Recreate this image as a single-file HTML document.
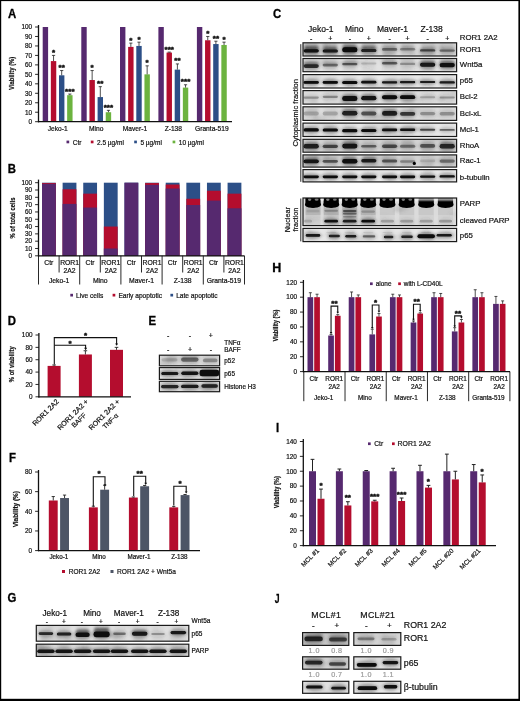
<!DOCTYPE html>
<html lang="en"><head><meta charset="utf-8"><title>Figure</title>
<style>
html,body{margin:0;padding:0;background:#fff;}
body{width:520px;height:701px;overflow:hidden;font-family:"Liberation Sans",Arial,sans-serif;}
svg{display:block;}
svg text{font-kerning:normal;}
</style></head><body>
<svg width="520" height="701" viewBox="0 0 520 701" font-family='"Liberation Sans", Arial, sans-serif' fill="#111">
<defs>
<filter id="bl" x="-20%" y="-50%" width="140%" height="200%"><feGaussianBlur stdDeviation="0.55"/></filter>
<filter id="bl2" x="-20%" y="-50%" width="140%" height="200%"><feGaussianBlur stdDeviation="1.4"/></filter>
<clipPath id="c1"><rect x="303" y="42.8" width="153.6" height="13.2"/></clipPath>
<clipPath id="c2"><rect x="303" y="58.5" width="153.6" height="13.2"/></clipPath>
<clipPath id="c3"><rect x="303" y="74.6" width="153.6" height="13.4"/></clipPath>
<clipPath id="c4"><rect x="303" y="90.6" width="153.6" height="13.5"/></clipPath>
<clipPath id="c5"><rect x="303" y="106.8" width="153.6" height="13.6"/></clipPath>
<clipPath id="c6"><rect x="303" y="123.1" width="153.6" height="13.4"/></clipPath>
<clipPath id="c7"><rect x="303" y="139.3" width="153.6" height="12.9"/></clipPath>
<clipPath id="c8"><rect x="303" y="154.9" width="153.6" height="12.2"/></clipPath>
<clipPath id="c9"><rect x="303" y="169.6" width="153.6" height="12.3"/></clipPath>
<clipPath id="c10"><rect x="303" y="198" width="153.6" height="27.6"/></clipPath>
<clipPath id="c11"><rect x="303" y="228.4" width="153.6" height="13.2"/></clipPath>
<clipPath id="c12"><rect x="159.4" y="355.2" width="60.2" height="10.6"/></clipPath>
<clipPath id="c13"><rect x="159.4" y="367.6" width="60.2" height="11.8"/></clipPath>
<clipPath id="c14"><rect x="159.4" y="381.3" width="60.2" height="10.4"/></clipPath>
<clipPath id="c15"><rect x="36.3" y="625.4" width="152.5" height="15.8"/></clipPath>
<clipPath id="c16"><rect x="36.3" y="644.2" width="152.5" height="12.2"/></clipPath>
<clipPath id="c17"><rect x="302.6" y="632.6" width="46.2" height="12.8"/></clipPath>
<clipPath id="c18"><rect x="353.8" y="632.6" width="47" height="12.8"/></clipPath>
<clipPath id="c19"><rect x="302.6" y="656.8" width="46.2" height="12.4"/></clipPath>
<clipPath id="c20"><rect x="353.8" y="656.8" width="47" height="12.4"/></clipPath>
<clipPath id="c21"><rect x="302.6" y="681.3" width="46.2" height="12"/></clipPath>
<clipPath id="c22"><rect x="353.8" y="681.3" width="47" height="12"/></clipPath>
</defs>
<g id="fig" style="filter:blur(0.3px)">
<text x="0" y="0" font-size="12" font-weight="bold" fill="#000" transform="translate(8.1 17.6) scale(0.95 1)" stroke="#000" stroke-width="0.3">A</text>
<rect x="42.7" y="27" width="5.4" height="94.7" fill="#56296f"/>
<rect x="50.85" y="61.09" width="5.4" height="60.61" fill="#b40d2e"/>
<line x1="53.55" y1="61.09" x2="53.55" y2="55.41" stroke="#222" stroke-width="0.8"/>
<line x1="51.95" y1="55.41" x2="55.15" y2="55.41" stroke="#222" stroke-width="0.8"/>
<text x="53.55" y="54.89" font-size="8" text-anchor="middle" font-weight="bold" stroke="#111" stroke-width="0.45" letter-spacing="0.1">*</text>
<rect x="59" y="75.3" width="5.4" height="46.4" fill="#2c4f87"/>
<line x1="61.7" y1="75.3" x2="61.7" y2="70.56" stroke="#222" stroke-width="0.8"/>
<line x1="60.1" y1="70.56" x2="63.3" y2="70.56" stroke="#222" stroke-width="0.8"/>
<text x="61.7" y="70.04" font-size="8" text-anchor="middle" font-weight="bold" stroke="#111" stroke-width="0.45" letter-spacing="0.1">**</text>
<rect x="67.15" y="95.18" width="5.4" height="26.52" fill="#6cb33f"/>
<line x1="69.85" y1="95.18" x2="69.85" y2="94.05" stroke="#222" stroke-width="0.8"/>
<line x1="68.25" y1="94.05" x2="71.45" y2="94.05" stroke="#222" stroke-width="0.8"/>
<text x="69.85" y="93.53" font-size="8" text-anchor="middle" font-weight="bold" stroke="#111" stroke-width="0.45" letter-spacing="0.1">***</text>
<text x="57.62" y="130.5" font-size="6.65" text-anchor="middle" stroke="#111" stroke-width="0.2">Jeko-1</text>
<rect x="81.3" y="27" width="5.4" height="94.7" fill="#56296f"/>
<rect x="89.45" y="80.03" width="5.4" height="41.67" fill="#b40d2e"/>
<line x1="92.15" y1="80.03" x2="92.15" y2="70.56" stroke="#222" stroke-width="0.8"/>
<line x1="90.55" y1="70.56" x2="93.75" y2="70.56" stroke="#222" stroke-width="0.8"/>
<text x="92.15" y="70.04" font-size="8" text-anchor="middle" font-weight="bold" stroke="#111" stroke-width="0.45" letter-spacing="0.1">*</text>
<rect x="97.6" y="97.08" width="5.4" height="24.62" fill="#2c4f87"/>
<line x1="100.3" y1="97.08" x2="100.3" y2="86.66" stroke="#222" stroke-width="0.8"/>
<line x1="98.7" y1="86.66" x2="101.9" y2="86.66" stroke="#222" stroke-width="0.8"/>
<text x="100.3" y="86.14" font-size="8" text-anchor="middle" font-weight="bold" stroke="#111" stroke-width="0.45" letter-spacing="0.1">**</text>
<rect x="105.75" y="112.23" width="5.4" height="9.47" fill="#6cb33f"/>
<line x1="108.45" y1="112.23" x2="108.45" y2="110.34" stroke="#222" stroke-width="0.8"/>
<line x1="106.85" y1="110.34" x2="110.05" y2="110.34" stroke="#222" stroke-width="0.8"/>
<text x="108.45" y="109.82" font-size="8" text-anchor="middle" font-weight="bold" stroke="#111" stroke-width="0.45" letter-spacing="0.1">***</text>
<text x="96.22" y="130.5" font-size="6.65" text-anchor="middle" stroke="#111" stroke-width="0.2">Mino</text>
<rect x="120" y="27" width="5.4" height="94.7" fill="#56296f"/>
<rect x="128.15" y="46.89" width="5.4" height="74.81" fill="#b40d2e"/>
<line x1="130.85" y1="46.89" x2="130.85" y2="43.1" stroke="#222" stroke-width="0.8"/>
<line x1="129.25" y1="43.1" x2="132.45" y2="43.1" stroke="#222" stroke-width="0.8"/>
<text x="130.85" y="42.58" font-size="8" text-anchor="middle" font-weight="bold" stroke="#111" stroke-width="0.45" letter-spacing="0.1">*</text>
<rect x="136.3" y="45.94" width="5.4" height="75.76" fill="#2c4f87"/>
<line x1="139" y1="45.94" x2="139" y2="42.15" stroke="#222" stroke-width="0.8"/>
<line x1="137.4" y1="42.15" x2="140.6" y2="42.15" stroke="#222" stroke-width="0.8"/>
<text x="139" y="41.63" font-size="8" text-anchor="middle" font-weight="bold" stroke="#111" stroke-width="0.45" letter-spacing="0.1">*</text>
<rect x="144.45" y="74.35" width="5.4" height="47.35" fill="#6cb33f"/>
<line x1="147.15" y1="74.35" x2="147.15" y2="65.83" stroke="#222" stroke-width="0.8"/>
<line x1="145.55" y1="65.83" x2="148.75" y2="65.83" stroke="#222" stroke-width="0.8"/>
<text x="147.15" y="65.31" font-size="8" text-anchor="middle" font-weight="bold" stroke="#111" stroke-width="0.45" letter-spacing="0.1">*</text>
<text x="134.93" y="130.5" font-size="6.65" text-anchor="middle" stroke="#111" stroke-width="0.2">Maver-1</text>
<rect x="158.4" y="27" width="5.4" height="94.7" fill="#56296f"/>
<rect x="166.55" y="52.57" width="5.4" height="69.13" fill="#b40d2e"/>
<line x1="169.25" y1="52.57" x2="169.25" y2="52.1" stroke="#222" stroke-width="0.8"/>
<line x1="167.65" y1="52.1" x2="170.85" y2="52.1" stroke="#222" stroke-width="0.8"/>
<text x="169.25" y="51.58" font-size="8" text-anchor="middle" font-weight="bold" stroke="#111" stroke-width="0.45" letter-spacing="0.1">***</text>
<rect x="174.7" y="69.62" width="5.4" height="52.08" fill="#2c4f87"/>
<line x1="177.4" y1="69.62" x2="177.4" y2="63.93" stroke="#222" stroke-width="0.8"/>
<line x1="175.8" y1="63.93" x2="179" y2="63.93" stroke="#222" stroke-width="0.8"/>
<text x="177.4" y="63.41" font-size="8" text-anchor="middle" font-weight="bold" stroke="#111" stroke-width="0.45" letter-spacing="0.1">**</text>
<rect x="182.85" y="87.61" width="5.4" height="34.09" fill="#6cb33f"/>
<line x1="185.55" y1="87.61" x2="185.55" y2="84.77" stroke="#222" stroke-width="0.8"/>
<line x1="183.95" y1="84.77" x2="187.15" y2="84.77" stroke="#222" stroke-width="0.8"/>
<text x="185.55" y="84.25" font-size="8" text-anchor="middle" font-weight="bold" stroke="#111" stroke-width="0.45" letter-spacing="0.1">***</text>
<text x="173.33" y="130.5" font-size="6.65" text-anchor="middle" stroke="#111" stroke-width="0.2">Z-138</text>
<rect x="196.9" y="27" width="5.4" height="94.7" fill="#56296f"/>
<rect x="205.05" y="40.26" width="5.4" height="81.44" fill="#b40d2e"/>
<line x1="207.75" y1="40.26" x2="207.75" y2="36.47" stroke="#222" stroke-width="0.8"/>
<line x1="206.15" y1="36.47" x2="209.35" y2="36.47" stroke="#222" stroke-width="0.8"/>
<text x="207.75" y="35.95" font-size="8" text-anchor="middle" font-weight="bold" stroke="#111" stroke-width="0.45" letter-spacing="0.1">*</text>
<rect x="213.2" y="44.05" width="5.4" height="77.65" fill="#2c4f87"/>
<line x1="215.9" y1="44.05" x2="215.9" y2="41.2" stroke="#222" stroke-width="0.8"/>
<line x1="214.3" y1="41.2" x2="217.5" y2="41.2" stroke="#222" stroke-width="0.8"/>
<text x="215.9" y="40.68" font-size="8" text-anchor="middle" font-weight="bold" stroke="#111" stroke-width="0.45" letter-spacing="0.1">**</text>
<rect x="221.35" y="44.99" width="5.4" height="76.71" fill="#6cb33f"/>
<line x1="224.05" y1="44.99" x2="224.05" y2="42.15" stroke="#222" stroke-width="0.8"/>
<line x1="222.45" y1="42.15" x2="225.65" y2="42.15" stroke="#222" stroke-width="0.8"/>
<text x="224.05" y="41.63" font-size="8" text-anchor="middle" font-weight="bold" stroke="#111" stroke-width="0.45" letter-spacing="0.1">*</text>
<text x="211.83" y="130.5" font-size="6.65" text-anchor="middle" stroke="#111" stroke-width="0.2">Granta-519</text>
<line x1="38.5" y1="25" x2="38.5" y2="122.3" stroke="#111" stroke-width="1.3"/>
<line x1="38" y1="121.7" x2="232" y2="121.7" stroke="#111" stroke-width="1.2"/>
<line x1="35.1" y1="121.7" x2="38.5" y2="121.7" stroke="#111" stroke-width="0.9"/>
<text x="32.1" y="124" font-size="6.4" text-anchor="end" stroke="#111" stroke-width="0.2">0</text>
<line x1="35.1" y1="112.23" x2="38.5" y2="112.23" stroke="#111" stroke-width="0.9"/>
<text x="32.1" y="114.53" font-size="6.4" text-anchor="end" stroke="#111" stroke-width="0.2">10</text>
<line x1="35.1" y1="102.76" x2="38.5" y2="102.76" stroke="#111" stroke-width="0.9"/>
<text x="32.1" y="105.06" font-size="6.4" text-anchor="end" stroke="#111" stroke-width="0.2">20</text>
<line x1="35.1" y1="93.29" x2="38.5" y2="93.29" stroke="#111" stroke-width="0.9"/>
<text x="32.1" y="95.59" font-size="6.4" text-anchor="end" stroke="#111" stroke-width="0.2">30</text>
<line x1="35.1" y1="83.82" x2="38.5" y2="83.82" stroke="#111" stroke-width="0.9"/>
<text x="32.1" y="86.12" font-size="6.4" text-anchor="end" stroke="#111" stroke-width="0.2">40</text>
<line x1="35.1" y1="74.35" x2="38.5" y2="74.35" stroke="#111" stroke-width="0.9"/>
<text x="32.1" y="76.65" font-size="6.4" text-anchor="end" stroke="#111" stroke-width="0.2">50</text>
<line x1="35.1" y1="64.88" x2="38.5" y2="64.88" stroke="#111" stroke-width="0.9"/>
<text x="32.1" y="67.18" font-size="6.4" text-anchor="end" stroke="#111" stroke-width="0.2">60</text>
<line x1="35.1" y1="55.41" x2="38.5" y2="55.41" stroke="#111" stroke-width="0.9"/>
<text x="32.1" y="57.71" font-size="6.4" text-anchor="end" stroke="#111" stroke-width="0.2">70</text>
<line x1="35.1" y1="45.94" x2="38.5" y2="45.94" stroke="#111" stroke-width="0.9"/>
<text x="32.1" y="48.24" font-size="6.4" text-anchor="end" stroke="#111" stroke-width="0.2">80</text>
<line x1="35.1" y1="36.47" x2="38.5" y2="36.47" stroke="#111" stroke-width="0.9"/>
<text x="32.1" y="38.77" font-size="6.4" text-anchor="end" stroke="#111" stroke-width="0.2">90</text>
<line x1="35.1" y1="27" x2="38.5" y2="27" stroke="#111" stroke-width="0.9"/>
<text x="32.1" y="29.3" font-size="6.4" text-anchor="end" stroke="#111" stroke-width="0.2">100</text>
<text x="0" y="0" font-size="7" text-anchor="middle" font-weight="bold" transform="translate(13.6 73.3) rotate(-90) scale(0.84 1)" stroke="#111" stroke-width="0.2">Viability (%)</text>
<rect x="66.5" y="140.6" width="2.7" height="2.7" fill="#56296f"/>
<text x="72.7" y="144.9" font-size="6.5" stroke="#111" stroke-width="0.2">Ctr</text>
<rect x="90.8" y="140.6" width="2.7" height="2.7" fill="#b40d2e"/>
<text x="97" y="144.9" font-size="6.5" stroke="#111" stroke-width="0.2">2.5 µg/ml</text>
<rect x="134.2" y="140.6" width="2.7" height="2.7" fill="#2c4f87"/>
<text x="140.4" y="144.9" font-size="6.5" stroke="#111" stroke-width="0.2">5 µg/ml</text>
<rect x="172.6" y="140.6" width="2.7" height="2.7" fill="#6cb33f"/>
<text x="178.8" y="144.9" font-size="6.5" stroke="#111" stroke-width="0.2">10 µg/ml</text>
<text x="0" y="0" font-size="12" font-weight="bold" fill="#000" transform="translate(7.8 172.8) scale(0.95 1)" stroke="#000" stroke-width="0.3">B</text>
<rect x="42" y="182.7" width="13.8" height="73.1" fill="#2c4f87"/>
<rect x="42" y="182.99" width="13.8" height="72.81" fill="#b40d2e"/>
<rect x="42" y="183.8" width="13.8" height="72" fill="#56296f"/>
<rect x="62.62" y="182.7" width="13.8" height="73.1" fill="#2c4f87"/>
<rect x="62.62" y="189.28" width="13.8" height="66.52" fill="#b40d2e"/>
<rect x="62.62" y="203.9" width="13.8" height="51.9" fill="#56296f"/>
<rect x="83.24" y="182.7" width="13.8" height="73.1" fill="#2c4f87"/>
<rect x="83.24" y="193.66" width="13.8" height="62.14" fill="#b40d2e"/>
<rect x="83.24" y="207.55" width="13.8" height="48.25" fill="#56296f"/>
<rect x="103.86" y="182.7" width="13.8" height="73.1" fill="#2c4f87"/>
<rect x="103.86" y="226.56" width="13.8" height="29.24" fill="#b40d2e"/>
<rect x="103.86" y="248.49" width="13.8" height="7.31" fill="#56296f"/>
<rect x="124.48" y="182.7" width="13.8" height="73.1" fill="#2c4f87"/>
<rect x="124.48" y="182.7" width="13.8" height="73.1" fill="#56296f"/>
<rect x="145.1" y="182.7" width="13.8" height="73.1" fill="#2c4f87"/>
<rect x="145.1" y="183.07" width="13.8" height="72.73" fill="#b40d2e"/>
<rect x="145.1" y="184.89" width="13.8" height="70.91" fill="#56296f"/>
<rect x="165.72" y="182.7" width="13.8" height="73.1" fill="#2c4f87"/>
<rect x="165.72" y="184.53" width="13.8" height="71.27" fill="#b40d2e"/>
<rect x="165.72" y="188.55" width="13.8" height="67.25" fill="#56296f"/>
<rect x="186.34" y="182.7" width="13.8" height="73.1" fill="#2c4f87"/>
<rect x="186.34" y="198.78" width="13.8" height="57.02" fill="#b40d2e"/>
<rect x="186.34" y="205" width="13.8" height="50.8" fill="#56296f"/>
<rect x="206.96" y="182.7" width="13.8" height="73.1" fill="#2c4f87"/>
<rect x="206.96" y="190.74" width="13.8" height="65.06" fill="#b40d2e"/>
<rect x="206.96" y="200.61" width="13.8" height="55.19" fill="#56296f"/>
<rect x="227.58" y="182.7" width="13.8" height="73.1" fill="#2c4f87"/>
<rect x="227.58" y="193.66" width="13.8" height="62.14" fill="#b40d2e"/>
<rect x="227.58" y="208.28" width="13.8" height="47.52" fill="#56296f"/>
<line x1="38.5" y1="179.6" x2="38.5" y2="256.4" stroke="#111" stroke-width="1.3"/>
<line x1="38" y1="255.8" x2="244.5" y2="255.8" stroke="#111" stroke-width="1.2"/>
<line x1="35.1" y1="255.8" x2="38.5" y2="255.8" stroke="#111" stroke-width="0.9"/>
<text x="32.1" y="258.1" font-size="6.4" text-anchor="end" stroke="#111" stroke-width="0.2">0</text>
<line x1="35.1" y1="248.49" x2="38.5" y2="248.49" stroke="#111" stroke-width="0.9"/>
<text x="32.1" y="250.79" font-size="6.4" text-anchor="end" stroke="#111" stroke-width="0.2">10</text>
<line x1="35.1" y1="241.18" x2="38.5" y2="241.18" stroke="#111" stroke-width="0.9"/>
<text x="32.1" y="243.48" font-size="6.4" text-anchor="end" stroke="#111" stroke-width="0.2">20</text>
<line x1="35.1" y1="233.87" x2="38.5" y2="233.87" stroke="#111" stroke-width="0.9"/>
<text x="32.1" y="236.17" font-size="6.4" text-anchor="end" stroke="#111" stroke-width="0.2">30</text>
<line x1="35.1" y1="226.56" x2="38.5" y2="226.56" stroke="#111" stroke-width="0.9"/>
<text x="32.1" y="228.86" font-size="6.4" text-anchor="end" stroke="#111" stroke-width="0.2">40</text>
<line x1="35.1" y1="219.25" x2="38.5" y2="219.25" stroke="#111" stroke-width="0.9"/>
<text x="32.1" y="221.55" font-size="6.4" text-anchor="end" stroke="#111" stroke-width="0.2">50</text>
<line x1="35.1" y1="211.94" x2="38.5" y2="211.94" stroke="#111" stroke-width="0.9"/>
<text x="32.1" y="214.24" font-size="6.4" text-anchor="end" stroke="#111" stroke-width="0.2">60</text>
<line x1="35.1" y1="204.63" x2="38.5" y2="204.63" stroke="#111" stroke-width="0.9"/>
<text x="32.1" y="206.93" font-size="6.4" text-anchor="end" stroke="#111" stroke-width="0.2">70</text>
<line x1="35.1" y1="197.32" x2="38.5" y2="197.32" stroke="#111" stroke-width="0.9"/>
<text x="32.1" y="199.62" font-size="6.4" text-anchor="end" stroke="#111" stroke-width="0.2">80</text>
<line x1="35.1" y1="190.01" x2="38.5" y2="190.01" stroke="#111" stroke-width="0.9"/>
<text x="32.1" y="192.31" font-size="6.4" text-anchor="end" stroke="#111" stroke-width="0.2">90</text>
<line x1="35.1" y1="182.7" x2="38.5" y2="182.7" stroke="#111" stroke-width="0.9"/>
<text x="32.1" y="185" font-size="6.4" text-anchor="end" stroke="#111" stroke-width="0.2">100</text>
<text x="0" y="0" font-size="7" text-anchor="middle" font-weight="bold" transform="translate(14.6 218) rotate(-90) scale(0.84 1)" stroke="#111" stroke-width="0.2">% of total cells</text>
<line x1="38.5" y1="255.8" x2="38.5" y2="284.5" stroke="#111" stroke-width="0.9"/>
<line x1="79.7" y1="255.8" x2="79.7" y2="284.5" stroke="#111" stroke-width="0.9"/>
<line x1="120.9" y1="255.8" x2="120.9" y2="284.5" stroke="#111" stroke-width="0.9"/>
<line x1="162.1" y1="255.8" x2="162.1" y2="284.5" stroke="#111" stroke-width="0.9"/>
<line x1="203.3" y1="255.8" x2="203.3" y2="284.5" stroke="#111" stroke-width="0.9"/>
<line x1="244.5" y1="255.8" x2="244.5" y2="284.5" stroke="#111" stroke-width="0.9"/>
<line x1="59.1" y1="255.8" x2="59.1" y2="272.5" stroke="#111" stroke-width="0.9"/>
<line x1="100.3" y1="255.8" x2="100.3" y2="272.5" stroke="#111" stroke-width="0.9"/>
<line x1="141.5" y1="255.8" x2="141.5" y2="272.5" stroke="#111" stroke-width="0.9"/>
<line x1="182.7" y1="255.8" x2="182.7" y2="272.5" stroke="#111" stroke-width="0.9"/>
<line x1="223.9" y1="255.8" x2="223.9" y2="272.5" stroke="#111" stroke-width="0.9"/>
<text x="48.8" y="265.3" font-size="6.8" text-anchor="middle" stroke="#111" stroke-width="0.2">Ctr</text>
<text x="69.6" y="265.3" font-size="6.8" text-anchor="middle" stroke="#111" stroke-width="0.2">ROR1</text>
<text x="69.6" y="273.4" font-size="6.8" text-anchor="middle" stroke="#111" stroke-width="0.2">2A2</text>
<text x="90" y="265.3" font-size="6.8" text-anchor="middle" stroke="#111" stroke-width="0.2">Ctr</text>
<text x="110.8" y="265.3" font-size="6.8" text-anchor="middle" stroke="#111" stroke-width="0.2">ROR1</text>
<text x="110.8" y="273.4" font-size="6.8" text-anchor="middle" stroke="#111" stroke-width="0.2">2A2</text>
<text x="131.2" y="265.3" font-size="6.8" text-anchor="middle" stroke="#111" stroke-width="0.2">Ctr</text>
<text x="152" y="265.3" font-size="6.8" text-anchor="middle" stroke="#111" stroke-width="0.2">ROR1</text>
<text x="152" y="273.4" font-size="6.8" text-anchor="middle" stroke="#111" stroke-width="0.2">2A2</text>
<text x="172.4" y="265.3" font-size="6.8" text-anchor="middle" stroke="#111" stroke-width="0.2">Ctr</text>
<text x="193.2" y="265.3" font-size="6.8" text-anchor="middle" stroke="#111" stroke-width="0.2">ROR1</text>
<text x="193.2" y="273.4" font-size="6.8" text-anchor="middle" stroke="#111" stroke-width="0.2">2A2</text>
<text x="213.6" y="265.3" font-size="6.8" text-anchor="middle" stroke="#111" stroke-width="0.2">Ctr</text>
<text x="234.4" y="265.3" font-size="6.8" text-anchor="middle" stroke="#111" stroke-width="0.2">ROR1</text>
<text x="234.4" y="273.4" font-size="6.8" text-anchor="middle" stroke="#111" stroke-width="0.2">2A2</text>
<text x="59.1" y="283" font-size="6.8" text-anchor="middle" stroke="#111" stroke-width="0.2">Jeko-1</text>
<text x="100.3" y="283" font-size="6.8" text-anchor="middle" stroke="#111" stroke-width="0.2">Mino</text>
<text x="141.5" y="283" font-size="6.8" text-anchor="middle" stroke="#111" stroke-width="0.2">Maver-1</text>
<text x="182.7" y="283" font-size="6.8" text-anchor="middle" stroke="#111" stroke-width="0.2">Z-138</text>
<text x="223.9" y="283" font-size="6.8" text-anchor="middle" stroke="#111" stroke-width="0.2">Granta-519</text>
<rect x="70.3" y="293.8" width="2.7" height="2.7" fill="#56296f"/>
<text x="76.1" y="298" font-size="6.6" stroke="#111" stroke-width="0.2">Live cells</text>
<rect x="112.6" y="293.8" width="2.7" height="2.7" fill="#b40d2e"/>
<text x="118.4" y="298" font-size="6.6" stroke="#111" stroke-width="0.2">Early apoptotic</text>
<rect x="170.4" y="293.8" width="2.7" height="2.7" fill="#2c4f87"/>
<text x="176.2" y="298" font-size="6.6" stroke="#111" stroke-width="0.2">Late apoptotic</text>
<text x="0" y="0" font-size="12" font-weight="bold" fill="#000" transform="translate(272.9 17.7) scale(0.95 1)" stroke="#000" stroke-width="0.3">C</text>
<text x="320.7" y="31.6" font-size="8.5" text-anchor="middle" stroke="#111" stroke-width="0.2">Jeko-1</text>
<text x="354.2" y="31.6" font-size="8.5" text-anchor="middle" stroke="#111" stroke-width="0.2">Mino</text>
<text x="392.5" y="31.6" font-size="8.5" text-anchor="middle" stroke="#111" stroke-width="0.2">Maver-1</text>
<text x="431.7" y="31.6" font-size="8.5" text-anchor="middle" stroke="#111" stroke-width="0.2">Z-138</text>
<text x="311.2" y="40.6" font-size="7" text-anchor="middle" stroke="#111" stroke-width="0.2">-</text>
<text x="330.3" y="40.6" font-size="7" text-anchor="middle" stroke="#111" stroke-width="0.2">+</text>
<text x="349.8" y="40.6" font-size="7" text-anchor="middle" stroke="#111" stroke-width="0.2">-</text>
<text x="368.8" y="40.6" font-size="7" text-anchor="middle" stroke="#111" stroke-width="0.2">+</text>
<text x="389.6" y="40.6" font-size="7" text-anchor="middle" stroke="#111" stroke-width="0.2">-</text>
<text x="407.6" y="40.6" font-size="7" text-anchor="middle" stroke="#111" stroke-width="0.2">+</text>
<text x="427.6" y="40.6" font-size="7" text-anchor="middle" stroke="#111" stroke-width="0.2">-</text>
<text x="447.2" y="40.6" font-size="7" text-anchor="middle" stroke="#111" stroke-width="0.2">+</text>
<text x="459.8" y="39.5" font-size="7.8" stroke="#111" stroke-width="0.2">ROR1 2A2</text>
<g clip-path="url(#c1)">
<rect x="303" y="42.8" width="153.6" height="13.2" fill="#d8d8d8"/>
<g filter="url(#bl2)">
<ellipse cx="352.74" cy="44.79" rx="6.68" ry="2.73" fill="#fff" opacity="0.1"/>
<ellipse cx="311.91" cy="49.5" rx="4.35" ry="2.18" fill="#fff" opacity="0.05"/>
<ellipse cx="368.21" cy="53.71" rx="7.14" ry="3.9" fill="#fff" opacity="0.06"/>
<ellipse cx="391.64" cy="48.04" rx="8.29" ry="2.58" fill="#fff" opacity="0.13"/>
<ellipse cx="325.16" cy="44.35" rx="4.9" ry="3.16" fill="#555" opacity="0.07"/>
<ellipse cx="401.14" cy="47.72" rx="4.3" ry="2.41" fill="#fff" opacity="0.09"/>
<ellipse cx="407.51" cy="48.44" rx="6.27" ry="2.6" fill="#555" opacity="0.08"/>
<ellipse cx="425.02" cy="52.03" rx="6.63" ry="3.75" fill="#555" opacity="0.07"/>
<ellipse cx="415.04" cy="46.6" rx="6.09" ry="3.51" fill="#fff" opacity="0.13"/>
<ellipse cx="326.34" cy="49.25" rx="7.82" ry="3.15" fill="#555" opacity="0.05"/>
<ellipse cx="437.47" cy="46.94" rx="6.9" ry="2.91" fill="#555" opacity="0.11"/>
<ellipse cx="432.02" cy="55.27" rx="4.3" ry="3.4" fill="#555" opacity="0.09"/>
<ellipse cx="402.4" cy="55.91" rx="5.93" ry="3.34" fill="#fff" opacity="0.12"/>
<ellipse cx="306.47" cy="48.89" rx="4.29" ry="3.54" fill="#fff" opacity="0.06"/>
<ellipse cx="322.87" cy="46.07" rx="4.4" ry="2.9" fill="#555" opacity="0.08"/>
<ellipse cx="387.39" cy="54.46" rx="5.39" ry="2.83" fill="#555" opacity="0.12"/>
<ellipse cx="358.11" cy="54.47" rx="4.88" ry="2.46" fill="#fff" opacity="0.13"/>
<ellipse cx="338.84" cy="49.2" rx="4.02" ry="2.84" fill="#fff" opacity="0.1"/>
<ellipse cx="359.72" cy="50.28" rx="6.58" ry="3.24" fill="#555" opacity="0.13"/>
<rect x="304.4" y="42.8" width="13.6" height="13.2" fill="#333" opacity="0.23"/>
<rect x="323.5" y="42.8" width="13.6" height="13.2" fill="#333" opacity="0.22"/>
<rect x="343" y="42.8" width="13.6" height="13.2" fill="#333" opacity="0.24"/>
<rect x="362" y="42.8" width="13.6" height="13.2" fill="#333" opacity="0.21"/>
<rect x="382.8" y="42.8" width="13.6" height="13.2" fill="#333" opacity="0.15"/>
<rect x="400.8" y="42.8" width="13.6" height="13.2" fill="#333" opacity="0.13"/>
<rect x="420.8" y="42.8" width="13.6" height="13.2" fill="#333" opacity="0.17"/>
<rect x="440.4" y="42.8" width="13.6" height="13.2" fill="#333" opacity="0.14"/>
<ellipse cx="311.2" cy="50.8" rx="8.9" ry="3.8" fill="#333" opacity="0.4"/>
<rect x="304.1" y="46" width="14.2" height="4.2" fill="#222" opacity="0.59"/>
<ellipse cx="330.3" cy="51" rx="8.9" ry="3.7" fill="#333" opacity="0.37"/>
<rect x="323.2" y="46.9" width="14.2" height="3.6" fill="#222" opacity="0.55"/>
<ellipse cx="349.8" cy="49.8" rx="8.9" ry="4.7" fill="#333" opacity="0.42"/>
<rect x="342.7" y="45.8" width="14.2" height="2.5" fill="#222" opacity="0.62"/>
<ellipse cx="368.8" cy="50.4" rx="8.9" ry="3.7" fill="#333" opacity="0.34"/>
<rect x="361.7" y="46.1" width="14.2" height="3.8" fill="#222" opacity="0.51"/>
<ellipse cx="389.6" cy="49.4" rx="8.9" ry="3.5" fill="#333" opacity="0.18"/>
<rect x="382.5" y="46.6" width="14.2" height="2.5" fill="#222" opacity="0.26"/>
<ellipse cx="407.6" cy="49.2" rx="8.9" ry="3.5" fill="#333" opacity="0.13"/>
<rect x="400.5" y="46.4" width="14.2" height="2.5" fill="#222" opacity="0.19"/>
<ellipse cx="427.6" cy="50.4" rx="8.9" ry="3.4" fill="#333" opacity="0.23"/>
<rect x="420.5" y="48" width="14.2" height="2.2" fill="#222" opacity="0.34"/>
<ellipse cx="447.2" cy="50.6" rx="8.9" ry="3.4" fill="#333" opacity="0.16"/>
<rect x="440.1" y="48.2" width="14.2" height="2.2" fill="#222" opacity="0.24"/>
</g>
<g filter="url(#bl)">
<rect x="303.6" y="49.2" width="15.2" height="3.2" rx="1.6" fill="#080808" opacity="0.95"/>
<rect x="322.7" y="49.5" width="15.2" height="3" rx="1.5" fill="#080808" opacity="0.88"/>
<rect x="342.2" y="47.3" width="15.2" height="5" rx="2.4" fill="#080808" opacity="1"/>
<rect x="361.2" y="48.9" width="15.2" height="3" rx="1.5" fill="#080808" opacity="0.82"/>
<rect x="382" y="48.1" width="15.2" height="2.6" rx="1.3" fill="#080808" opacity="0.42"/>
<rect x="400" y="47.9" width="15.2" height="2.6" rx="1.3" fill="#080808" opacity="0.3"/>
<rect x="420" y="49.2" width="15.2" height="2.4" rx="1.2" fill="#080808" opacity="0.55"/>
<rect x="439.6" y="49.4" width="15.2" height="2.4" rx="1.2" fill="#080808" opacity="0.38"/>
</g></g>
<rect x="303" y="42.8" width="153.6" height="13.2" fill="none" stroke="#1a1a1a" stroke-width="1.2"/>
<text x="459.8" y="51.5" font-size="7.8" stroke="#111" stroke-width="0.2">ROR1</text>
<g clip-path="url(#c2)">
<rect x="303" y="58.5" width="153.6" height="13.2" fill="#e2e2e2"/>
<g filter="url(#bl2)">
<ellipse cx="406.86" cy="59.21" rx="8.37" ry="3.6" fill="#555" opacity="0.12"/>
<ellipse cx="363.27" cy="63.77" rx="4.31" ry="2.13" fill="#555" opacity="0.06"/>
<ellipse cx="335.07" cy="60.64" rx="4" ry="2.3" fill="#fff" opacity="0.08"/>
<ellipse cx="318.58" cy="63.3" rx="7.07" ry="2.3" fill="#555" opacity="0.05"/>
<ellipse cx="341.75" cy="63.09" rx="8.24" ry="3.99" fill="#fff" opacity="0.08"/>
<ellipse cx="374.58" cy="64.89" rx="5.71" ry="2.53" fill="#fff" opacity="0.06"/>
<ellipse cx="430.31" cy="60.63" rx="6.64" ry="2.29" fill="#555" opacity="0.05"/>
<ellipse cx="386.43" cy="58.86" rx="8.32" ry="3.39" fill="#555" opacity="0.09"/>
<ellipse cx="343.11" cy="63.34" rx="6.66" ry="3.56" fill="#555" opacity="0.06"/>
<ellipse cx="353.64" cy="61.44" rx="8.26" ry="3.61" fill="#555" opacity="0.11"/>
<ellipse cx="428.7" cy="68.27" rx="5.78" ry="2.06" fill="#555" opacity="0.07"/>
<ellipse cx="307.29" cy="62.19" rx="8.78" ry="2.89" fill="#555" opacity="0.07"/>
<ellipse cx="446.93" cy="71.54" rx="5.1" ry="2.45" fill="#fff" opacity="0.13"/>
<ellipse cx="333.21" cy="61.2" rx="8.2" ry="2.96" fill="#555" opacity="0.1"/>
<ellipse cx="403.3" cy="69.06" rx="8.55" ry="3.56" fill="#555" opacity="0.06"/>
<ellipse cx="418.22" cy="64.81" rx="5.66" ry="3.6" fill="#555" opacity="0.06"/>
<ellipse cx="452.25" cy="63.73" rx="7.62" ry="2.34" fill="#555" opacity="0.08"/>
<ellipse cx="322.51" cy="60.5" rx="4.73" ry="3.65" fill="#555" opacity="0.12"/>
<ellipse cx="453.57" cy="67.18" rx="4.65" ry="2.03" fill="#555" opacity="0.08"/>
<rect x="304.4" y="58.5" width="13.6" height="13.2" fill="#333" opacity="0.11"/>
<rect x="323.5" y="58.5" width="13.6" height="13.2" fill="#333" opacity="0.09"/>
<rect x="343" y="58.5" width="13.6" height="13.2" fill="#333" opacity="0.09"/>
<rect x="362" y="58.5" width="13.6" height="13.2" fill="#333" opacity="0.06"/>
<rect x="382.8" y="58.5" width="13.6" height="13.2" fill="#333" opacity="0.09"/>
<rect x="400.8" y="58.5" width="13.6" height="13.2" fill="#333" opacity="0.07"/>
<rect x="420.8" y="58.5" width="13.6" height="13.2" fill="#333" opacity="0.13"/>
<rect x="440.4" y="58.5" width="13.6" height="13.2" fill="#333" opacity="0.14"/>
<ellipse cx="311.2" cy="66.1" rx="8.9" ry="4" fill="#333" opacity="0.3"/>
<rect x="304.1" y="62.1" width="14.2" height="3.2" fill="#222" opacity="0.45"/>
<ellipse cx="330.3" cy="65.1" rx="8.9" ry="3.5" fill="#333" opacity="0.18"/>
<rect x="323.2" y="62.8" width="14.2" height="2" fill="#222" opacity="0.26"/>
<ellipse cx="349.8" cy="64.1" rx="8.9" ry="3.4" fill="#333" opacity="0.21"/>
<rect x="342.7" y="62.1" width="14.2" height="1.8" fill="#222" opacity="0.31"/>
<ellipse cx="368.8" cy="63.5" rx="8.9" ry="3.3" fill="#333" opacity="0.06"/>
<ellipse cx="389.6" cy="63.3" rx="8.9" ry="3.5" fill="#333" opacity="0.21"/>
<rect x="382.5" y="61.2" width="14.2" height="1.8" fill="#222" opacity="0.31"/>
<ellipse cx="407.6" cy="63.9" rx="8.9" ry="3.4" fill="#333" opacity="0.12"/>
<ellipse cx="427.6" cy="64.7" rx="8.9" ry="4.2" fill="#333" opacity="0.38"/>
<rect x="420.5" y="61.2" width="14.2" height="2.5" fill="#222" opacity="0.56"/>
<ellipse cx="447.2" cy="65.1" rx="8.9" ry="4.4" fill="#333" opacity="0.41"/>
<rect x="440.1" y="61.4" width="14.2" height="2.5" fill="#222" opacity="0.6"/>
</g>
<g filter="url(#bl)">
<rect x="303.6" y="64.3" width="15.2" height="3.6" rx="1.8" fill="#080808" opacity="0.72"/>
<rect x="322.7" y="63.8" width="15.2" height="2.6" rx="1.3" fill="#080808" opacity="0.42"/>
<rect x="342.2" y="62.9" width="15.2" height="2.4" rx="1.2" fill="#080808" opacity="0.5"/>
<rect x="361.2" y="62.4" width="15.2" height="2.2" rx="1.1" fill="#080808" opacity="0.15"/>
<rect x="382" y="62" width="15.2" height="2.6" rx="1.3" fill="#080808" opacity="0.5"/>
<rect x="400" y="62.7" width="15.2" height="2.4" rx="1.2" fill="#080808" opacity="0.28"/>
<rect x="420" y="62.7" width="15.2" height="4" rx="2" fill="#080808" opacity="0.9"/>
<rect x="439.6" y="62.9" width="15.2" height="4.4" rx="2.2" fill="#080808" opacity="0.97"/>
</g></g>
<rect x="303" y="58.5" width="153.6" height="13.2" fill="none" stroke="#1a1a1a" stroke-width="1.2"/>
<text x="459.8" y="67.2" font-size="7.8" stroke="#111" stroke-width="0.2">Wnt5a</text>
<g clip-path="url(#c3)">
<rect x="303" y="74.6" width="153.6" height="13.4" fill="#e8e8e8"/>
<g filter="url(#bl2)">
<ellipse cx="452.13" cy="83.31" rx="6.17" ry="3.74" fill="#555" opacity="0.09"/>
<ellipse cx="429.9" cy="77.43" rx="5.2" ry="3.17" fill="#fff" opacity="0.07"/>
<ellipse cx="342.84" cy="80.21" rx="5.77" ry="2.92" fill="#555" opacity="0.06"/>
<ellipse cx="392.6" cy="86.72" rx="6.51" ry="3.06" fill="#555" opacity="0.08"/>
<ellipse cx="383.41" cy="74.85" rx="4.02" ry="3.6" fill="#fff" opacity="0.09"/>
<ellipse cx="329.47" cy="80.94" rx="5.63" ry="3.04" fill="#555" opacity="0.11"/>
<ellipse cx="388.32" cy="85.11" rx="5.24" ry="2.55" fill="#555" opacity="0.06"/>
<ellipse cx="421.62" cy="81.4" rx="8.56" ry="2.89" fill="#555" opacity="0.09"/>
<ellipse cx="397.08" cy="81.37" rx="6.26" ry="3.07" fill="#555" opacity="0.09"/>
<ellipse cx="376.43" cy="87.22" rx="8.71" ry="2.52" fill="#555" opacity="0.11"/>
<ellipse cx="388.94" cy="87.24" rx="4.61" ry="2.88" fill="#fff" opacity="0.12"/>
<ellipse cx="314.14" cy="77.82" rx="7.92" ry="3.79" fill="#555" opacity="0.06"/>
<ellipse cx="326.72" cy="84.2" rx="8.41" ry="3.94" fill="#fff" opacity="0.1"/>
<ellipse cx="336.73" cy="87.36" rx="8.95" ry="3.66" fill="#fff" opacity="0.08"/>
<ellipse cx="327.8" cy="80.38" rx="4.98" ry="2.64" fill="#fff" opacity="0.09"/>
<ellipse cx="413.92" cy="74.86" rx="4.09" ry="2.66" fill="#fff" opacity="0.09"/>
<ellipse cx="398.84" cy="81.46" rx="7.94" ry="3.94" fill="#555" opacity="0.06"/>
<ellipse cx="319.09" cy="78.16" rx="5.35" ry="2.26" fill="#555" opacity="0.05"/>
<ellipse cx="367.86" cy="86.81" rx="4.75" ry="3.84" fill="#fff" opacity="0.12"/>
<rect x="304.4" y="74.6" width="13.6" height="13.4" fill="#333" opacity="0.03"/>
<rect x="323.5" y="74.6" width="13.6" height="13.4" fill="#333" opacity="0.03"/>
<rect x="343" y="74.6" width="13.6" height="13.4" fill="#333" opacity="0.03"/>
<rect x="362" y="74.6" width="13.6" height="13.4" fill="#333" opacity="0.03"/>
<rect x="382.8" y="74.6" width="13.6" height="13.4" fill="#333" opacity="0.03"/>
<rect x="400.8" y="74.6" width="13.6" height="13.4" fill="#333" opacity="0.03"/>
<rect x="420.8" y="74.6" width="13.6" height="13.4" fill="#333" opacity="0.03"/>
<rect x="440.4" y="74.6" width="13.6" height="13.4" fill="#333" opacity="0.03"/>
<ellipse cx="311.2" cy="82.4" rx="8.9" ry="3.6" fill="#333" opacity="0.42"/>
<ellipse cx="330.3" cy="82.4" rx="8.9" ry="3.6" fill="#333" opacity="0.42"/>
<ellipse cx="349.8" cy="82.5" rx="8.9" ry="3.7" fill="#333" opacity="0.42"/>
<ellipse cx="368.8" cy="82.2" rx="8.9" ry="3.6" fill="#333" opacity="0.41"/>
<ellipse cx="389.6" cy="82.4" rx="8.9" ry="3.3" fill="#333" opacity="0.39"/>
<ellipse cx="407.6" cy="82.2" rx="8.9" ry="3.3" fill="#333" opacity="0.39"/>
<ellipse cx="427.6" cy="82" rx="8.9" ry="3.3" fill="#333" opacity="0.38"/>
<ellipse cx="447.2" cy="82.4" rx="8.9" ry="3.4" fill="#333" opacity="0.38"/>
</g>
<g filter="url(#bl)">
<rect x="303.6" y="81" width="15.2" height="2.8" rx="1.4" fill="#080808" opacity="1"/>
<rect x="322.7" y="81" width="15.2" height="2.8" rx="1.4" fill="#080808" opacity="1"/>
<rect x="342.2" y="81" width="15.2" height="3" rx="1.5" fill="#080808" opacity="1"/>
<rect x="361.2" y="80.8" width="15.2" height="2.8" rx="1.4" fill="#080808" opacity="0.97"/>
<rect x="382" y="81.3" width="15.2" height="2.2" rx="1.1" fill="#080808" opacity="0.92"/>
<rect x="400" y="81.1" width="15.2" height="2.2" rx="1.1" fill="#080808" opacity="0.92"/>
<rect x="420" y="80.9" width="15.2" height="2.2" rx="1.1" fill="#080808" opacity="0.9"/>
<rect x="439.6" y="81.2" width="15.2" height="2.4" rx="1.2" fill="#080808" opacity="0.9"/>
</g></g>
<rect x="303" y="74.6" width="153.6" height="13.4" fill="none" stroke="#1a1a1a" stroke-width="1.2"/>
<text x="459.8" y="83.4" font-size="7.8" stroke="#111" stroke-width="0.2">p65</text>
<g clip-path="url(#c4)">
<rect x="303" y="90.6" width="153.6" height="13.5" fill="#dedede"/>
<g filter="url(#bl2)">
<ellipse cx="390.64" cy="100.06" rx="7.44" ry="2.85" fill="#fff" opacity="0.06"/>
<ellipse cx="314.12" cy="103.27" rx="4.42" ry="3.71" fill="#555" opacity="0.1"/>
<ellipse cx="313.23" cy="102.25" rx="6.77" ry="3.85" fill="#fff" opacity="0.09"/>
<ellipse cx="344.14" cy="92.34" rx="4.55" ry="2.32" fill="#fff" opacity="0.09"/>
<ellipse cx="310.74" cy="93.32" rx="7.8" ry="2.58" fill="#fff" opacity="0.07"/>
<ellipse cx="379.81" cy="93" rx="5.25" ry="2.03" fill="#fff" opacity="0.08"/>
<ellipse cx="415.6" cy="98.04" rx="8.67" ry="2.21" fill="#fff" opacity="0.07"/>
<ellipse cx="428.79" cy="96.43" rx="5.97" ry="3.01" fill="#555" opacity="0.09"/>
<ellipse cx="408.64" cy="103.86" rx="7.53" ry="3.27" fill="#555" opacity="0.08"/>
<ellipse cx="365.16" cy="95.29" rx="4.35" ry="3.48" fill="#fff" opacity="0.05"/>
<ellipse cx="342.26" cy="92.8" rx="8.35" ry="3.34" fill="#555" opacity="0.06"/>
<ellipse cx="346.3" cy="93.87" rx="4.79" ry="2.89" fill="#fff" opacity="0.07"/>
<ellipse cx="343.43" cy="103.58" rx="5.22" ry="3.93" fill="#555" opacity="0.13"/>
<ellipse cx="350.55" cy="95.41" rx="6.37" ry="3.01" fill="#fff" opacity="0.05"/>
<ellipse cx="333.87" cy="97.41" rx="4.45" ry="2.8" fill="#fff" opacity="0.05"/>
<ellipse cx="309.4" cy="90.9" rx="6.93" ry="3.06" fill="#fff" opacity="0.07"/>
<ellipse cx="418.28" cy="99.48" rx="5.95" ry="2.65" fill="#555" opacity="0.11"/>
<ellipse cx="454.25" cy="92.62" rx="4.22" ry="3.67" fill="#555" opacity="0.11"/>
<ellipse cx="440" cy="99.07" rx="4.7" ry="3.05" fill="#555" opacity="0.11"/>
<rect x="304.4" y="90.6" width="13.6" height="13.5" fill="#333" opacity="0.04"/>
<rect x="323.5" y="90.6" width="13.6" height="13.5" fill="#333" opacity="0.04"/>
<rect x="343" y="90.6" width="13.6" height="13.5" fill="#333" opacity="0.07"/>
<rect x="362" y="90.6" width="13.6" height="13.5" fill="#333" opacity="0.07"/>
<rect x="382.8" y="90.6" width="13.6" height="13.5" fill="#333" opacity="0.07"/>
<rect x="400.8" y="90.6" width="13.6" height="13.5" fill="#333" opacity="0.07"/>
<rect x="420.8" y="90.6" width="13.6" height="13.5" fill="#333" opacity="0.03"/>
<rect x="440.4" y="90.6" width="13.6" height="13.5" fill="#333" opacity="0.04"/>
<ellipse cx="311.2" cy="97.6" rx="8.9" ry="3.3" fill="#333" opacity="0.12"/>
<ellipse cx="330.3" cy="96.8" rx="8.9" ry="3.3" fill="#333" opacity="0.14"/>
<ellipse cx="349.8" cy="98.6" rx="8.9" ry="4.7" fill="#333" opacity="0.41"/>
<rect x="342.7" y="95.3" width="14.2" height="1.8" fill="#222" opacity="0.6"/>
<ellipse cx="368.8" cy="98.2" rx="8.9" ry="4.3" fill="#333" opacity="0.39"/>
<rect x="361.7" y="95.3" width="14.2" height="1.8" fill="#222" opacity="0.58"/>
<ellipse cx="389.6" cy="97.2" rx="8.9" ry="4.2" fill="#333" opacity="0.42"/>
<ellipse cx="407.6" cy="97.2" rx="8.9" ry="4.1" fill="#333" opacity="0.42"/>
<ellipse cx="427.6" cy="97.2" rx="8.9" ry="3.2" fill="#333" opacity="0.08"/>
<ellipse cx="447.2" cy="97.6" rx="8.9" ry="3.2" fill="#333" opacity="0.11"/>
</g>
<g filter="url(#bl)">
<rect x="303.6" y="96.5" width="15.2" height="2.2" rx="1.1" fill="#080808" opacity="0.28"/>
<rect x="322.7" y="95.7" width="15.2" height="2.2" rx="1.1" fill="#080808" opacity="0.33"/>
<rect x="342.2" y="96.1" width="15.2" height="5" rx="2.4" fill="#080808" opacity="0.97"/>
<rect x="361.2" y="96.1" width="15.2" height="4.2" rx="2.1" fill="#080808" opacity="0.93"/>
<rect x="382" y="95.2" width="15.2" height="4" rx="2" fill="#080808" opacity="1"/>
<rect x="400" y="95.3" width="15.2" height="3.8" rx="1.9" fill="#080808" opacity="1"/>
<rect x="420" y="96.2" width="15.2" height="2" rx="1" fill="#080808" opacity="0.2"/>
<rect x="439.6" y="96.6" width="15.2" height="2" rx="1" fill="#080808" opacity="0.26"/>
</g></g>
<rect x="303" y="90.6" width="153.6" height="13.5" fill="none" stroke="#1a1a1a" stroke-width="1.2"/>
<text x="459.8" y="99.45" font-size="7.8" stroke="#111" stroke-width="0.2">Bcl-2</text>
<g clip-path="url(#c5)">
<rect x="303" y="106.8" width="153.6" height="13.6" fill="#dcdcdc"/>
<g filter="url(#bl2)">
<ellipse cx="380.47" cy="118.16" rx="6.92" ry="3.79" fill="#555" opacity="0.11"/>
<ellipse cx="407.89" cy="116.23" rx="4.67" ry="2.72" fill="#fff" opacity="0.07"/>
<ellipse cx="319.12" cy="118.17" rx="7.13" ry="3.36" fill="#555" opacity="0.09"/>
<ellipse cx="378.16" cy="106.85" rx="6.51" ry="3.07" fill="#555" opacity="0.11"/>
<ellipse cx="404.27" cy="107.7" rx="4.37" ry="2.53" fill="#fff" opacity="0.11"/>
<ellipse cx="415.03" cy="109.59" rx="6.47" ry="2.77" fill="#555" opacity="0.11"/>
<ellipse cx="376.58" cy="116.1" rx="7.21" ry="2.15" fill="#555" opacity="0.11"/>
<ellipse cx="325.64" cy="110.25" rx="6.84" ry="2.02" fill="#fff" opacity="0.11"/>
<ellipse cx="312.32" cy="110.46" rx="7.38" ry="2.58" fill="#555" opacity="0.1"/>
<ellipse cx="382.34" cy="113.12" rx="8.47" ry="2.4" fill="#fff" opacity="0.09"/>
<ellipse cx="453.24" cy="119.53" rx="8.1" ry="3.94" fill="#fff" opacity="0.05"/>
<ellipse cx="372.04" cy="110.45" rx="5.05" ry="3.16" fill="#555" opacity="0.07"/>
<ellipse cx="324.77" cy="113.93" rx="8.1" ry="3.02" fill="#fff" opacity="0.13"/>
<ellipse cx="439.22" cy="116.37" rx="6.43" ry="2.05" fill="#555" opacity="0.07"/>
<ellipse cx="303.55" cy="113.49" rx="4.7" ry="2.69" fill="#fff" opacity="0.09"/>
<ellipse cx="351.55" cy="118.23" rx="8.2" ry="2.24" fill="#555" opacity="0.05"/>
<ellipse cx="445.29" cy="116.5" rx="5.86" ry="2.79" fill="#fff" opacity="0.12"/>
<ellipse cx="456.41" cy="114.81" rx="5.38" ry="2.1" fill="#fff" opacity="0.08"/>
<ellipse cx="318.62" cy="118.15" rx="5.25" ry="2.53" fill="#555" opacity="0.07"/>
<rect x="304.4" y="106.8" width="13.6" height="13.6" fill="#333" opacity="0.05"/>
<rect x="323.5" y="106.8" width="13.6" height="13.6" fill="#333" opacity="0.05"/>
<rect x="343" y="106.8" width="13.6" height="13.6" fill="#333" opacity="0.09"/>
<rect x="362" y="106.8" width="13.6" height="13.6" fill="#333" opacity="0.07"/>
<rect x="382.8" y="106.8" width="13.6" height="13.6" fill="#333" opacity="0.09"/>
<rect x="400.8" y="106.8" width="13.6" height="13.6" fill="#333" opacity="0.08"/>
<rect x="420.8" y="106.8" width="13.6" height="13.6" fill="#333" opacity="0.05"/>
<rect x="440.4" y="106.8" width="13.6" height="13.6" fill="#333" opacity="0.05"/>
<ellipse cx="311.2" cy="113.6" rx="8.9" ry="4.2" fill="#333" opacity="0.08"/>
<ellipse cx="330.3" cy="113.6" rx="8.9" ry="4.2" fill="#333" opacity="0.08"/>
<ellipse cx="349.8" cy="113.2" rx="8.9" ry="4.5" fill="#333" opacity="0.36"/>
<rect x="342.7" y="109.9" width="14.2" height="2" fill="#222" opacity="0.53"/>
<ellipse cx="368.8" cy="113.6" rx="8.9" ry="4.2" fill="#333" opacity="0.23"/>
<ellipse cx="389.6" cy="113.4" rx="8.9" ry="4.5" fill="#333" opacity="0.34"/>
<rect x="382.5" y="110.1" width="14.2" height="2" fill="#222" opacity="0.5"/>
<ellipse cx="407.6" cy="113.8" rx="8.9" ry="4.1" fill="#333" opacity="0.29"/>
<ellipse cx="427.6" cy="113.6" rx="8.9" ry="3.9" fill="#333" opacity="0.12"/>
<ellipse cx="447.2" cy="113.8" rx="8.9" ry="3.9" fill="#333" opacity="0.12"/>
</g>
<g filter="url(#bl)">
<rect x="303.6" y="111.6" width="15.2" height="4" rx="2" fill="#080808" opacity="0.2"/>
<rect x="322.7" y="111.6" width="15.2" height="4" rx="2" fill="#080808" opacity="0.2"/>
<rect x="342.2" y="110.9" width="15.2" height="4.6" rx="2.3" fill="#080808" opacity="0.86"/>
<rect x="361.2" y="111.6" width="15.2" height="4" rx="2" fill="#080808" opacity="0.55"/>
<rect x="382" y="111.1" width="15.2" height="4.6" rx="2.3" fill="#080808" opacity="0.8"/>
<rect x="400" y="111.9" width="15.2" height="3.8" rx="1.9" fill="#080808" opacity="0.68"/>
<rect x="420" y="111.9" width="15.2" height="3.4" rx="1.7" fill="#080808" opacity="0.28"/>
<rect x="439.6" y="112.1" width="15.2" height="3.4" rx="1.7" fill="#080808" opacity="0.28"/>
</g></g>
<rect x="303" y="106.8" width="153.6" height="13.6" fill="none" stroke="#1a1a1a" stroke-width="1.2"/>
<text x="459.8" y="115.7" font-size="7.8" stroke="#111" stroke-width="0.2">Bcl-xL</text>
<g clip-path="url(#c6)">
<rect x="303" y="123.1" width="153.6" height="13.4" fill="#e6e6e6"/>
<g filter="url(#bl2)">
<ellipse cx="381.48" cy="125.64" rx="8.42" ry="3.62" fill="#555" opacity="0.08"/>
<ellipse cx="399.91" cy="135.34" rx="7.6" ry="2.1" fill="#555" opacity="0.13"/>
<ellipse cx="415.49" cy="129.14" rx="5.43" ry="2.1" fill="#555" opacity="0.11"/>
<ellipse cx="445.35" cy="124.81" rx="5.49" ry="3.48" fill="#fff" opacity="0.09"/>
<ellipse cx="452.96" cy="126.59" rx="6.79" ry="2.79" fill="#fff" opacity="0.1"/>
<ellipse cx="328.7" cy="125.27" rx="6.49" ry="2.44" fill="#555" opacity="0.07"/>
<ellipse cx="442.2" cy="136.45" rx="4.96" ry="2.18" fill="#fff" opacity="0.09"/>
<ellipse cx="355.52" cy="124.32" rx="6.85" ry="3.77" fill="#fff" opacity="0.07"/>
<ellipse cx="418.15" cy="128.63" rx="5.88" ry="2.68" fill="#555" opacity="0.08"/>
<ellipse cx="312.53" cy="126.82" rx="6.52" ry="3.26" fill="#fff" opacity="0.13"/>
<ellipse cx="435.54" cy="125.99" rx="6" ry="2.89" fill="#fff" opacity="0.07"/>
<ellipse cx="449.53" cy="134.47" rx="4.16" ry="3.42" fill="#fff" opacity="0.12"/>
<ellipse cx="440.58" cy="129.44" rx="5.96" ry="3.85" fill="#fff" opacity="0.1"/>
<ellipse cx="429.81" cy="134.56" rx="4.55" ry="2.31" fill="#fff" opacity="0.13"/>
<ellipse cx="383.24" cy="132.24" rx="7.24" ry="3.53" fill="#555" opacity="0.13"/>
<ellipse cx="373.25" cy="130.49" rx="5.16" ry="3.84" fill="#555" opacity="0.05"/>
<ellipse cx="402.15" cy="127.17" rx="7.18" ry="3.4" fill="#fff" opacity="0.06"/>
<ellipse cx="320.22" cy="124.04" rx="5.94" ry="2.45" fill="#555" opacity="0.09"/>
<ellipse cx="395.32" cy="123.24" rx="8.79" ry="3.29" fill="#fff" opacity="0.07"/>
<rect x="304.4" y="123.1" width="13.6" height="13.4" fill="#333" opacity="0.04"/>
<rect x="323.5" y="123.1" width="13.6" height="13.4" fill="#333" opacity="0.04"/>
<rect x="343" y="123.1" width="13.6" height="13.4" fill="#333" opacity="0.04"/>
<rect x="362" y="123.1" width="13.6" height="13.4" fill="#333" opacity="0.04"/>
<rect x="382.8" y="123.1" width="13.6" height="13.4" fill="#333" opacity="0.04"/>
<rect x="400.8" y="123.1" width="13.6" height="13.4" fill="#333" opacity="0.04"/>
<rect x="420.8" y="123.1" width="13.6" height="13.4" fill="#333" opacity="0.03"/>
<rect x="440.4" y="123.1" width="13.6" height="13.4" fill="#333" opacity="0.03"/>
<ellipse cx="311.2" cy="129.9" rx="8.9" ry="3.8" fill="#333" opacity="0.42"/>
<ellipse cx="330.3" cy="130.1" rx="8.9" ry="3.7" fill="#333" opacity="0.42"/>
<ellipse cx="349.8" cy="130.7" rx="8.9" ry="3.8" fill="#333" opacity="0.42"/>
<ellipse cx="368.8" cy="130.5" rx="8.9" ry="3.8" fill="#333" opacity="0.42"/>
<ellipse cx="389.6" cy="129.9" rx="8.9" ry="3.5" fill="#333" opacity="0.41"/>
<ellipse cx="407.6" cy="129.7" rx="8.9" ry="3.5" fill="#333" opacity="0.41"/>
<ellipse cx="427.6" cy="129.7" rx="8.9" ry="3.2" fill="#333" opacity="0.26"/>
<ellipse cx="447.2" cy="129.9" rx="8.9" ry="3.1" fill="#333" opacity="0.21"/>
</g>
<g filter="url(#bl)">
<rect x="303.6" y="128.3" width="15.2" height="3.2" rx="1.6" fill="#080808" opacity="1"/>
<rect x="322.7" y="128.6" width="15.2" height="3" rx="1.5" fill="#080808" opacity="1"/>
<rect x="342.2" y="129.1" width="15.2" height="3.2" rx="1.6" fill="#080808" opacity="1"/>
<rect x="361.2" y="128.9" width="15.2" height="3.2" rx="1.6" fill="#080808" opacity="1"/>
<rect x="382" y="128.6" width="15.2" height="2.6" rx="1.3" fill="#080808" opacity="0.97"/>
<rect x="400" y="128.4" width="15.2" height="2.6" rx="1.3" fill="#080808" opacity="0.97"/>
<rect x="420" y="128.7" width="15.2" height="2" rx="1" fill="#080808" opacity="0.62"/>
<rect x="439.6" y="129" width="15.2" height="1.8" rx="0.9" fill="#080808" opacity="0.5"/>
</g></g>
<rect x="303" y="123.1" width="153.6" height="13.4" fill="none" stroke="#1a1a1a" stroke-width="1.2"/>
<text x="459.8" y="131.9" font-size="7.8" stroke="#111" stroke-width="0.2">Mcl-1</text>
<g clip-path="url(#c7)">
<rect x="303" y="139.3" width="153.6" height="12.9" fill="#d0d0d0"/>
<g filter="url(#bl2)">
<ellipse cx="438.75" cy="145.43" rx="8.8" ry="3.41" fill="#fff" opacity="0.07"/>
<ellipse cx="350.22" cy="139.58" rx="6.1" ry="2.51" fill="#555" opacity="0.09"/>
<ellipse cx="405.51" cy="151.23" rx="5.69" ry="2.84" fill="#fff" opacity="0.07"/>
<ellipse cx="407.84" cy="141.86" rx="6.52" ry="2.41" fill="#555" opacity="0.11"/>
<ellipse cx="451.97" cy="143.32" rx="5.11" ry="3.52" fill="#fff" opacity="0.12"/>
<ellipse cx="348.3" cy="151.58" rx="5.12" ry="2.83" fill="#fff" opacity="0.09"/>
<ellipse cx="405.19" cy="151.54" rx="5.06" ry="3.95" fill="#fff" opacity="0.06"/>
<ellipse cx="324.8" cy="139.97" rx="8.49" ry="3.77" fill="#fff" opacity="0.05"/>
<ellipse cx="415.55" cy="152.17" rx="4.93" ry="3.87" fill="#fff" opacity="0.12"/>
<ellipse cx="417.63" cy="139.71" rx="5.87" ry="2.66" fill="#fff" opacity="0.1"/>
<ellipse cx="329" cy="139.34" rx="8.78" ry="2.25" fill="#fff" opacity="0.07"/>
<ellipse cx="451.11" cy="141.98" rx="8.11" ry="2.86" fill="#555" opacity="0.08"/>
<ellipse cx="310.57" cy="145.41" rx="4.97" ry="2.73" fill="#555" opacity="0.08"/>
<ellipse cx="440.78" cy="139.69" rx="7.83" ry="2.08" fill="#555" opacity="0.08"/>
<ellipse cx="308.35" cy="140.11" rx="7.74" ry="3.8" fill="#fff" opacity="0.12"/>
<ellipse cx="355.08" cy="142.81" rx="5.31" ry="3.43" fill="#555" opacity="0.13"/>
<ellipse cx="351.61" cy="142.86" rx="8.58" ry="3.27" fill="#555" opacity="0.05"/>
<ellipse cx="447.88" cy="139.61" rx="8.78" ry="3.91" fill="#fff" opacity="0.07"/>
<ellipse cx="362.37" cy="142.54" rx="8.64" ry="2.37" fill="#fff" opacity="0.08"/>
<rect x="304.4" y="139.3" width="13.6" height="12.9" fill="#333" opacity="0.13"/>
<rect x="323.5" y="139.3" width="13.6" height="12.9" fill="#333" opacity="0.1"/>
<rect x="343" y="139.3" width="13.6" height="12.9" fill="#333" opacity="0.13"/>
<rect x="362" y="139.3" width="13.6" height="12.9" fill="#333" opacity="0.09"/>
<rect x="382.8" y="139.3" width="13.6" height="12.9" fill="#333" opacity="0.1"/>
<rect x="400.8" y="139.3" width="13.6" height="12.9" fill="#333" opacity="0.09"/>
<rect x="420.8" y="139.3" width="13.6" height="12.9" fill="#333" opacity="0.1"/>
<rect x="440.4" y="139.3" width="13.6" height="12.9" fill="#333" opacity="0.12"/>
<ellipse cx="311.2" cy="146.3" rx="8.9" ry="4.4" fill="#333" opacity="0.36"/>
<rect x="304.1" y="143.3" width="14.2" height="1.8" fill="#222" opacity="0.53"/>
<ellipse cx="330.3" cy="146.3" rx="8.9" ry="3.8" fill="#333" opacity="0.25"/>
<ellipse cx="349.8" cy="146.1" rx="8.9" ry="4.6" fill="#333" opacity="0.39"/>
<rect x="342.7" y="142.9" width="14.2" height="1.8" fill="#222" opacity="0.58"/>
<ellipse cx="368.8" cy="146.3" rx="8.9" ry="3.5" fill="#333" opacity="0.2"/>
<ellipse cx="389.6" cy="146.3" rx="8.9" ry="4" fill="#333" opacity="0.24"/>
<ellipse cx="407.6" cy="146.3" rx="8.9" ry="3.7" fill="#333" opacity="0.18"/>
<ellipse cx="427.6" cy="145.9" rx="8.9" ry="4" fill="#333" opacity="0.22"/>
<ellipse cx="447.2" cy="146.3" rx="8.9" ry="4.5" fill="#333" opacity="0.34"/>
<rect x="440.1" y="143" width="14.2" height="2" fill="#222" opacity="0.51"/>
</g>
<g filter="url(#bl)">
<rect x="303.6" y="144.1" width="15.2" height="4.4" rx="2.2" fill="#080808" opacity="0.86"/>
<rect x="322.7" y="144.7" width="15.2" height="3.2" rx="1.6" fill="#080808" opacity="0.6"/>
<rect x="342.2" y="143.7" width="15.2" height="4.8" rx="2.4" fill="#080808" opacity="0.93"/>
<rect x="361.2" y="145" width="15.2" height="2.6" rx="1.3" fill="#080808" opacity="0.48"/>
<rect x="382" y="144.5" width="15.2" height="3.6" rx="1.8" fill="#080808" opacity="0.58"/>
<rect x="400" y="144.8" width="15.2" height="3" rx="1.5" fill="#080808" opacity="0.42"/>
<rect x="420" y="144.1" width="15.2" height="3.6" rx="1.8" fill="#080808" opacity="0.52"/>
<rect x="439.6" y="144" width="15.2" height="4.6" rx="2.3" fill="#080808" opacity="0.82"/>
</g></g>
<rect x="303" y="139.3" width="153.6" height="12.9" fill="none" stroke="#1a1a1a" stroke-width="1.2"/>
<text x="459.8" y="147.85" font-size="7.8" stroke="#111" stroke-width="0.2">RhoA</text>
<g clip-path="url(#c8)">
<rect x="303" y="154.9" width="153.6" height="12.2" fill="#d2d2d2"/>
<g filter="url(#bl2)">
<ellipse cx="426.27" cy="163.91" rx="7.04" ry="2.66" fill="#555" opacity="0.12"/>
<ellipse cx="352.08" cy="159.31" rx="4.99" ry="3.51" fill="#fff" opacity="0.11"/>
<ellipse cx="340.99" cy="155.69" rx="5.63" ry="3.96" fill="#555" opacity="0.05"/>
<ellipse cx="438.7" cy="166.95" rx="4.48" ry="3" fill="#fff" opacity="0.07"/>
<ellipse cx="412.02" cy="160.35" rx="7.1" ry="3.35" fill="#fff" opacity="0.07"/>
<ellipse cx="417.89" cy="165.23" rx="8.2" ry="2.59" fill="#fff" opacity="0.1"/>
<ellipse cx="390.07" cy="159.45" rx="5.24" ry="2.49" fill="#fff" opacity="0.11"/>
<ellipse cx="326.55" cy="165.69" rx="5.98" ry="3.98" fill="#fff" opacity="0.1"/>
<ellipse cx="380.93" cy="157.72" rx="8.95" ry="2.2" fill="#555" opacity="0.11"/>
<ellipse cx="375.92" cy="164.89" rx="4.2" ry="2.59" fill="#555" opacity="0.12"/>
<ellipse cx="321.31" cy="157.21" rx="8.65" ry="2.74" fill="#555" opacity="0.13"/>
<ellipse cx="436.04" cy="160.38" rx="8.73" ry="2.21" fill="#555" opacity="0.07"/>
<ellipse cx="394.57" cy="162.46" rx="4.71" ry="2.41" fill="#fff" opacity="0.07"/>
<ellipse cx="342.15" cy="162.21" rx="4.06" ry="2.65" fill="#fff" opacity="0.1"/>
<ellipse cx="407.19" cy="157.16" rx="7.98" ry="3.1" fill="#fff" opacity="0.07"/>
<ellipse cx="312.72" cy="156.14" rx="7.2" ry="2.18" fill="#555" opacity="0.08"/>
<ellipse cx="328.14" cy="163.38" rx="5.54" ry="3.91" fill="#fff" opacity="0.08"/>
<ellipse cx="350.98" cy="161.81" rx="8.32" ry="3.99" fill="#fff" opacity="0.08"/>
<ellipse cx="358.88" cy="157.31" rx="4.03" ry="3.8" fill="#fff" opacity="0.11"/>
<rect x="304.4" y="154.9" width="13.6" height="12.2" fill="#333" opacity="0.13"/>
<rect x="323.5" y="154.9" width="13.6" height="12.2" fill="#333" opacity="0.1"/>
<rect x="343" y="154.9" width="13.6" height="12.2" fill="#333" opacity="0.14"/>
<rect x="362" y="154.9" width="13.6" height="12.2" fill="#333" opacity="0.12"/>
<rect x="382.8" y="154.9" width="13.6" height="12.2" fill="#333" opacity="0.1"/>
<rect x="400.8" y="154.9" width="13.6" height="12.2" fill="#333" opacity="0.08"/>
<rect x="420.8" y="154.9" width="13.6" height="12.2" fill="#333" opacity="0.06"/>
<rect x="440.4" y="154.9" width="13.6" height="12.2" fill="#333" opacity="0.09"/>
<ellipse cx="311.2" cy="161.3" rx="8.9" ry="4.1" fill="#333" opacity="0.39"/>
<rect x="304.1" y="158.6" width="14.2" height="1.8" fill="#222" opacity="0.57"/>
<ellipse cx="330.3" cy="161.3" rx="8.9" ry="3.6" fill="#333" opacity="0.22"/>
<ellipse cx="349.8" cy="161.3" rx="8.9" ry="4.4" fill="#333" opacity="0.41"/>
<rect x="342.7" y="158.3" width="14.2" height="1.8" fill="#222" opacity="0.6"/>
<ellipse cx="368.8" cy="160.7" rx="8.9" ry="3.9" fill="#333" opacity="0.34"/>
<rect x="361.7" y="158.2" width="14.2" height="1.8" fill="#222" opacity="0.5"/>
<ellipse cx="389.6" cy="161.1" rx="8.9" ry="3.7" fill="#333" opacity="0.22"/>
<ellipse cx="407.6" cy="161.5" rx="8.9" ry="3.5" fill="#333" opacity="0.13"/>
<ellipse cx="427.6" cy="160.9" rx="8.9" ry="3.5" fill="#333" opacity="0.05"/>
<ellipse cx="447.2" cy="161.1" rx="8.9" ry="3.9" fill="#333" opacity="0.17"/>
</g>
<g filter="url(#bl)">
<rect x="303.6" y="159.4" width="15.2" height="3.8" rx="1.9" fill="#080808" opacity="0.92"/>
<rect x="322.7" y="159.9" width="15.2" height="2.8" rx="1.4" fill="#080808" opacity="0.52"/>
<rect x="342.2" y="159.1" width="15.2" height="4.4" rx="2.2" fill="#080808" opacity="0.97"/>
<rect x="361.2" y="159" width="15.2" height="3.4" rx="1.7" fill="#080808" opacity="0.8"/>
<rect x="382" y="159.6" width="15.2" height="3" rx="1.5" fill="#080808" opacity="0.52"/>
<rect x="400" y="160.2" width="15.2" height="2.6" rx="1.3" fill="#080808" opacity="0.3"/>
<rect x="420" y="159.6" width="15.2" height="2.6" rx="1.3" fill="#080808" opacity="0.12"/>
<rect x="439.6" y="159.4" width="15.2" height="3.4" rx="1.7" fill="#080808" opacity="0.4"/>
<circle cx="414.3" cy="163.4" r="1.6" fill="#000"/>
</g></g>
<rect x="303" y="154.9" width="153.6" height="12.2" fill="none" stroke="#1a1a1a" stroke-width="1.2"/>
<text x="459.8" y="163.1" font-size="7.8" stroke="#111" stroke-width="0.2">Rac-1</text>
<g clip-path="url(#c9)">
<rect x="303" y="169.6" width="153.6" height="12.3" fill="#e8e8e8"/>
<g filter="url(#bl2)">
<ellipse cx="368.09" cy="179.69" rx="6.3" ry="2.33" fill="#555" opacity="0.08"/>
<ellipse cx="305.28" cy="176.38" rx="4.45" ry="3.24" fill="#555" opacity="0.1"/>
<ellipse cx="359.96" cy="175.8" rx="6.61" ry="3.85" fill="#fff" opacity="0.06"/>
<ellipse cx="319.71" cy="175.63" rx="4.99" ry="2.25" fill="#555" opacity="0.11"/>
<ellipse cx="447.86" cy="181.6" rx="8.63" ry="2.78" fill="#fff" opacity="0.09"/>
<ellipse cx="441.89" cy="177.23" rx="7.93" ry="2.44" fill="#fff" opacity="0.12"/>
<ellipse cx="365.13" cy="180.01" rx="5.09" ry="2.8" fill="#fff" opacity="0.12"/>
<ellipse cx="382.55" cy="174.32" rx="7.62" ry="3.79" fill="#fff" opacity="0.06"/>
<ellipse cx="309.31" cy="176.52" rx="8.19" ry="2.24" fill="#fff" opacity="0.11"/>
<ellipse cx="395.09" cy="176.37" rx="6.1" ry="3.17" fill="#fff" opacity="0.1"/>
<ellipse cx="368.39" cy="177.7" rx="4.12" ry="3.24" fill="#fff" opacity="0.09"/>
<ellipse cx="378.19" cy="172.49" rx="6.29" ry="2.36" fill="#555" opacity="0.11"/>
<ellipse cx="375.69" cy="170.92" rx="4.46" ry="2.88" fill="#fff" opacity="0.06"/>
<ellipse cx="381.36" cy="170.1" rx="7.67" ry="3.56" fill="#fff" opacity="0.1"/>
<ellipse cx="381.56" cy="170.27" rx="8.75" ry="2.27" fill="#fff" opacity="0.09"/>
<ellipse cx="434.65" cy="181.85" rx="4.97" ry="3.96" fill="#555" opacity="0.11"/>
<ellipse cx="378.55" cy="181.37" rx="7.94" ry="3.86" fill="#fff" opacity="0.12"/>
<ellipse cx="313.06" cy="173.92" rx="8.48" ry="2.55" fill="#fff" opacity="0.11"/>
<ellipse cx="428.28" cy="171.37" rx="5.04" ry="2.53" fill="#555" opacity="0.09"/>
<rect x="304.4" y="169.6" width="13.6" height="12.3" fill="#333" opacity="0.03"/>
<rect x="323.5" y="169.6" width="13.6" height="12.3" fill="#333" opacity="0.03"/>
<rect x="343" y="169.6" width="13.6" height="12.3" fill="#333" opacity="0.03"/>
<rect x="362" y="169.6" width="13.6" height="12.3" fill="#333" opacity="0.03"/>
<rect x="382.8" y="169.6" width="13.6" height="12.3" fill="#333" opacity="0.03"/>
<rect x="400.8" y="169.6" width="13.6" height="12.3" fill="#333" opacity="0.03"/>
<rect x="420.8" y="169.6" width="13.6" height="12.3" fill="#333" opacity="0.03"/>
<rect x="440.4" y="169.6" width="13.6" height="12.3" fill="#333" opacity="0.03"/>
<ellipse cx="311.2" cy="176.8" rx="8.9" ry="3.6" fill="#333" opacity="0.42"/>
<ellipse cx="330.3" cy="176.8" rx="8.9" ry="3.6" fill="#333" opacity="0.42"/>
<ellipse cx="349.8" cy="176.8" rx="8.9" ry="3.6" fill="#333" opacity="0.42"/>
<ellipse cx="368.8" cy="176.8" rx="8.9" ry="3.6" fill="#333" opacity="0.42"/>
<ellipse cx="389.6" cy="176.8" rx="8.9" ry="3.6" fill="#333" opacity="0.42"/>
<ellipse cx="407.6" cy="176.8" rx="8.9" ry="3.6" fill="#333" opacity="0.42"/>
<ellipse cx="427.6" cy="176.6" rx="8.9" ry="3.4" fill="#333" opacity="0.41"/>
<ellipse cx="447.2" cy="176.4" rx="8.9" ry="3.4" fill="#333" opacity="0.41"/>
</g>
<g filter="url(#bl)">
<rect x="303.6" y="175.4" width="15.2" height="2.8" rx="1.4" fill="#080808" opacity="1"/>
<rect x="322.7" y="175.4" width="15.2" height="2.8" rx="1.4" fill="#080808" opacity="1"/>
<rect x="342.2" y="175.4" width="15.2" height="2.8" rx="1.4" fill="#080808" opacity="1"/>
<rect x="361.2" y="175.4" width="15.2" height="2.8" rx="1.4" fill="#080808" opacity="1"/>
<rect x="382" y="175.4" width="15.2" height="2.8" rx="1.4" fill="#080808" opacity="1"/>
<rect x="400" y="175.4" width="15.2" height="2.8" rx="1.4" fill="#080808" opacity="1"/>
<rect x="420" y="175.4" width="15.2" height="2.4" rx="1.2" fill="#080808" opacity="0.97"/>
<rect x="439.6" y="175.2" width="15.2" height="2.4" rx="1.2" fill="#080808" opacity="0.97"/>
</g></g>
<rect x="303" y="169.6" width="153.6" height="12.3" fill="none" stroke="#1a1a1a" stroke-width="1.2"/>
<text x="459.8" y="179.65" font-size="7.8" stroke="#111" stroke-width="0.2">b-tubulin</text>
<line x1="300.8" y1="44.2" x2="300.8" y2="181.8" stroke="#111" stroke-width="0.9"/>
<text x="0" y="0" font-size="7.5" text-anchor="middle" transform="translate(297.6 112.8) rotate(-90)" stroke="#111" stroke-width="0.2">Cytoplasmic fraction</text>
<g clip-path="url(#c10)">
<rect x="303" y="198" width="153.6" height="27.6" fill="#dbdbdb"/>
<g filter="url(#bl2)">
<ellipse cx="380.72" cy="206.81" rx="4.81" ry="3.87" fill="#fff" opacity="0.05"/>
<ellipse cx="407.4" cy="222.71" rx="4.58" ry="3.06" fill="#555" opacity="0.06"/>
<ellipse cx="400.74" cy="207.93" rx="6.9" ry="3.77" fill="#555" opacity="0.12"/>
<ellipse cx="319.07" cy="225.41" rx="7.99" ry="2.53" fill="#fff" opacity="0.1"/>
<ellipse cx="455.14" cy="213.94" rx="6.21" ry="2.35" fill="#555" opacity="0.08"/>
<ellipse cx="417.22" cy="199.33" rx="7.2" ry="3.97" fill="#fff" opacity="0.12"/>
<ellipse cx="392.99" cy="216.32" rx="4.17" ry="2.3" fill="#fff" opacity="0.08"/>
<ellipse cx="397.63" cy="209.93" rx="4.66" ry="2.45" fill="#555" opacity="0.09"/>
<ellipse cx="403.32" cy="198.62" rx="4.53" ry="2.71" fill="#fff" opacity="0.05"/>
<ellipse cx="337.45" cy="214.11" rx="7.12" ry="2.95" fill="#fff" opacity="0.1"/>
<ellipse cx="323.7" cy="223.85" rx="4.48" ry="3.28" fill="#fff" opacity="0.07"/>
<ellipse cx="436.83" cy="219.59" rx="4.06" ry="3.29" fill="#fff" opacity="0.08"/>
<ellipse cx="389.37" cy="207.67" rx="8.69" ry="3.47" fill="#fff" opacity="0.1"/>
<ellipse cx="341.17" cy="222.94" rx="6.03" ry="2.48" fill="#555" opacity="0.05"/>
<ellipse cx="311.97" cy="219.5" rx="8.7" ry="2.28" fill="#555" opacity="0.05"/>
<ellipse cx="333.65" cy="214.78" rx="8.07" ry="2.35" fill="#555" opacity="0.09"/>
<ellipse cx="350.52" cy="206.29" rx="7.91" ry="3.43" fill="#555" opacity="0.05"/>
<ellipse cx="303.98" cy="221.31" rx="7.71" ry="2.9" fill="#fff" opacity="0.11"/>
<ellipse cx="337.71" cy="200.91" rx="5.68" ry="3.5" fill="#fff" opacity="0.07"/>
<ellipse cx="308" cy="221.2" rx="5.3" ry="3.6" fill="#333" opacity="0.07"/>
<ellipse cx="331.2" cy="221.2" rx="8.1" ry="3.6" fill="#333" opacity="0.41"/>
<ellipse cx="349.7" cy="221.2" rx="8.1" ry="3.6" fill="#333" opacity="0.37"/>
<ellipse cx="368.2" cy="221.2" rx="8.1" ry="3.6" fill="#333" opacity="0.42"/>
<ellipse cx="387.4" cy="221.2" rx="7.8" ry="3.6" fill="#333" opacity="0.08"/>
<ellipse cx="406.7" cy="221.2" rx="7.8" ry="3.6" fill="#333" opacity="0.08"/>
<ellipse cx="426.2" cy="221.2" rx="7.8" ry="3.6" fill="#333" opacity="0.08"/>
<ellipse cx="445.5" cy="221.2" rx="7.8" ry="3.6" fill="#333" opacity="0.09"/>
<ellipse cx="349.7" cy="211" rx="8.05" ry="3.3" fill="#333" opacity="0.25"/>
<ellipse cx="349.7" cy="213.6" rx="8.05" ry="3" fill="#333" opacity="0.18"/>
<ellipse cx="349.7" cy="216.8" rx="8.05" ry="2.9" fill="#333" opacity="0.12"/>
<ellipse cx="331.2" cy="210.8" rx="8.05" ry="3.2" fill="#333" opacity="0.12"/>
<ellipse cx="368.2" cy="211.6" rx="8.05" ry="3.4" fill="#333" opacity="0.09"/>
<ellipse cx="313" cy="211" rx="8.05" ry="3.7" fill="#333" opacity="0.05"/>
</g>
<g filter="url(#bl)">
<rect x="304" y="219.8" width="8" height="2.8" rx="1.4" fill="#080808" opacity="0.16"/>
<rect x="324.4" y="219.8" width="13.6" height="2.8" rx="1.4" fill="#080808" opacity="0.97"/>
<rect x="342.9" y="219.8" width="13.6" height="2.8" rx="1.4" fill="#080808" opacity="0.88"/>
<rect x="361.4" y="219.8" width="13.6" height="2.8" rx="1.4" fill="#080808" opacity="1"/>
<rect x="380.9" y="219.8" width="13" height="2.8" rx="1.4" fill="#080808" opacity="0.2"/>
<rect x="400.2" y="219.8" width="13" height="2.8" rx="1.4" fill="#080808" opacity="0.2"/>
<rect x="419.7" y="219.8" width="13" height="2.8" rx="1.4" fill="#080808" opacity="0.2"/>
<rect x="439" y="219.8" width="13" height="2.8" rx="1.4" fill="#080808" opacity="0.22"/>
<rect x="342.95" y="209.9" width="13.5" height="2.2" rx="1.1" fill="#080808" opacity="0.6"/>
<rect x="342.95" y="212.8" width="13.5" height="1.6" rx="0.8" fill="#080808" opacity="0.42"/>
<rect x="342.95" y="216.1" width="13.5" height="1.4" rx="0.7" fill="#080808" opacity="0.28"/>
<rect x="324.45" y="209.8" width="13.5" height="2" rx="1" fill="#080808" opacity="0.28"/>
<rect x="361.45" y="210.4" width="13.5" height="2.4" rx="1.2" fill="#080808" opacity="0.22"/>
<rect x="306.25" y="209.5" width="13.5" height="3" rx="1.5" fill="#080808" opacity="0.12"/>
<rect x="305.5" y="206" width="15" height="9" fill="#444" opacity="0.22"/>
<rect x="305.5" y="215" width="15" height="10" fill="#444" opacity="0.1"/>
<rect x="323.7" y="206" width="15" height="9" fill="#444" opacity="0.22"/>
<rect x="323.7" y="215" width="15" height="10" fill="#444" opacity="0.1"/>
<rect x="342.2" y="206" width="15" height="9" fill="#444" opacity="0.22"/>
<rect x="342.2" y="215" width="15" height="10" fill="#444" opacity="0.1"/>
<rect x="360.7" y="206" width="15" height="9" fill="#444" opacity="0.22"/>
<rect x="360.7" y="215" width="15" height="10" fill="#444" opacity="0.1"/>
<rect x="379.9" y="206" width="15" height="9" fill="#444" opacity="0.13"/>
<rect x="379.9" y="215" width="15" height="10" fill="#444" opacity="0.06"/>
<rect x="399.2" y="206" width="15" height="9" fill="#444" opacity="0.13"/>
<rect x="399.2" y="215" width="15" height="10" fill="#444" opacity="0.06"/>
<rect x="418.7" y="206" width="15" height="9" fill="#444" opacity="0.13"/>
<rect x="418.7" y="215" width="15" height="10" fill="#444" opacity="0.06"/>
<rect x="438" y="206" width="15" height="9" fill="#444" opacity="0.13"/>
<rect x="438" y="215" width="15" height="10" fill="#444" opacity="0.06"/>
<path d="M305.4 197 H320.6 V202.5 Q323.2 207.8 313 207.9 Q302.8 207.8 305.4 202.5 Z" fill="#050505"/>
<path d="M323.6 197 H338.8 V202.5 Q341.4 207.8 331.2 207.9 Q321 207.8 323.6 202.5 Z" fill="#050505"/>
<path d="M342.1 197 H357.3 V202.5 Q359.9 207.8 349.7 207.9 Q339.5 207.8 342.1 202.5 Z" fill="#050505"/>
<path d="M360.6 197 H375.8 V202.5 Q378.4 207.8 368.2 207.9 Q358 207.8 360.6 202.5 Z" fill="#050505"/>
<path d="M379.8 197 H395 V202.5 Q397.6 207.8 387.4 207.9 Q377.2 207.8 379.8 202.5 Z" fill="#050505"/>
<path d="M399.1 197 H414.3 V202.5 Q416.9 207.8 406.7 207.9 Q396.5 207.8 399.1 202.5 Z" fill="#050505"/>
<path d="M418.6 200.6 H433.8 V202.5 Q436.4 207.8 426.2 207.9 Q416 207.8 418.6 202.5 Z" fill="#050505"/>
<rect x="418.7" y="197.5" width="15" height="4" fill="#555" opacity="0.55"/>
<path d="M437.9 200.6 H453.1 V202.5 Q455.7 207.8 445.5 207.9 Q435.3 207.8 437.9 202.5 Z" fill="#050505"/>
<rect x="438" y="197.5" width="15" height="4" fill="#555" opacity="0.55"/>
<ellipse cx="309.6" cy="199.6" rx="1.6" ry="1.3" fill="#e8e8e8" opacity="0.55"/>
<ellipse cx="316.6" cy="199.5" rx="1.8" ry="1.2" fill="#e8e8e8" opacity="0.5"/>
<ellipse cx="327.8" cy="199.6" rx="1.6" ry="1.3" fill="#e8e8e8" opacity="0.55"/>
<ellipse cx="334.8" cy="199.5" rx="1.8" ry="1.2" fill="#e8e8e8" opacity="0.5"/>
<ellipse cx="346.3" cy="199.6" rx="1.6" ry="1.3" fill="#e8e8e8" opacity="0.55"/>
<ellipse cx="353.3" cy="199.5" rx="1.8" ry="1.2" fill="#e8e8e8" opacity="0.5"/>
<ellipse cx="364.8" cy="199.6" rx="1.6" ry="1.3" fill="#e8e8e8" opacity="0.55"/>
<ellipse cx="371.8" cy="199.5" rx="1.8" ry="1.2" fill="#e8e8e8" opacity="0.5"/>
<ellipse cx="384" cy="199.6" rx="1.6" ry="1.3" fill="#e8e8e8" opacity="0.55"/>
<ellipse cx="391" cy="199.5" rx="1.8" ry="1.2" fill="#e8e8e8" opacity="0.5"/>
<ellipse cx="403.3" cy="199.6" rx="1.6" ry="1.3" fill="#e8e8e8" opacity="0.55"/>
<ellipse cx="410.3" cy="199.5" rx="1.8" ry="1.2" fill="#e8e8e8" opacity="0.5"/>
<ellipse cx="322.1" cy="199.2" rx="1.5" ry="2.4" fill="#ececec"/>
<ellipse cx="340.45" cy="199.2" rx="1.5" ry="2.4" fill="#ececec"/>
<ellipse cx="358.95" cy="199.2" rx="1.5" ry="2.4" fill="#ececec"/>
<ellipse cx="377.8" cy="199.2" rx="1.5" ry="2.4" fill="#ececec"/>
<ellipse cx="397.05" cy="199.2" rx="1.5" ry="2.4" fill="#ececec"/>
<ellipse cx="416.45" cy="199.2" rx="1.5" ry="2.4" fill="#ececec"/>
<ellipse cx="435.85" cy="199.2" rx="1.5" ry="2.4" fill="#ececec"/>
</g></g>
<rect x="303" y="198" width="153.6" height="27.6" fill="none" stroke="#1a1a1a" stroke-width="1.2"/>
<text x="459.8" y="205.5" font-size="7.8" stroke="#111" stroke-width="0.2">PARP</text>
<text x="459.8" y="222.5" font-size="7.8" stroke="#111" stroke-width="0.2">cleaved PARP</text>
<g clip-path="url(#c11)">
<rect x="303" y="228.4" width="153.6" height="13.2" fill="#e6e6e6"/>
<g filter="url(#bl2)">
<ellipse cx="409.77" cy="239.56" rx="6.77" ry="2.87" fill="#fff" opacity="0.11"/>
<ellipse cx="424.11" cy="235.31" rx="8.83" ry="2.43" fill="#555" opacity="0.07"/>
<ellipse cx="438.17" cy="228.6" rx="7.72" ry="3.89" fill="#fff" opacity="0.07"/>
<ellipse cx="417.61" cy="232.71" rx="5.2" ry="3.82" fill="#fff" opacity="0.12"/>
<ellipse cx="399.87" cy="237.55" rx="6.35" ry="3.68" fill="#555" opacity="0.1"/>
<ellipse cx="410.15" cy="239.72" rx="6.85" ry="2.62" fill="#555" opacity="0.08"/>
<ellipse cx="335.56" cy="236.62" rx="4.72" ry="2.05" fill="#555" opacity="0.06"/>
<ellipse cx="319.39" cy="240.66" rx="4.14" ry="2.08" fill="#fff" opacity="0.08"/>
<ellipse cx="409.39" cy="236.77" rx="4.33" ry="3.18" fill="#555" opacity="0.11"/>
<ellipse cx="358.82" cy="239.19" rx="4.33" ry="3.74" fill="#555" opacity="0.12"/>
<ellipse cx="443.45" cy="240.87" rx="4.56" ry="2.07" fill="#fff" opacity="0.06"/>
<ellipse cx="433.21" cy="239.12" rx="7.16" ry="2.57" fill="#555" opacity="0.1"/>
<ellipse cx="318.34" cy="229.69" rx="5.6" ry="2.85" fill="#fff" opacity="0.11"/>
<ellipse cx="306.21" cy="231.79" rx="5.84" ry="2.64" fill="#555" opacity="0.07"/>
<ellipse cx="451.07" cy="235.05" rx="4.15" ry="2.83" fill="#555" opacity="0.12"/>
<ellipse cx="370.04" cy="238.6" rx="6.69" ry="2.43" fill="#555" opacity="0.08"/>
<ellipse cx="435.44" cy="229.6" rx="4.01" ry="2.4" fill="#fff" opacity="0.12"/>
<ellipse cx="420.07" cy="241.31" rx="6.46" ry="3.59" fill="#fff" opacity="0.05"/>
<ellipse cx="331.34" cy="234.93" rx="5.3" ry="3.89" fill="#555" opacity="0.08"/>
<rect x="306.55" y="228.4" width="12.9" height="13.2" fill="#333" opacity="0.03"/>
<rect x="329.6" y="228.4" width="9.4" height="13.2" fill="#333" opacity="0.03"/>
<rect x="346.1" y="228.4" width="9.4" height="13.2" fill="#333" opacity="0.03"/>
<rect x="363.55" y="228.4" width="10.9" height="13.2" fill="#333" opacity="0.02"/>
<rect x="384.65" y="228.4" width="7.9" height="13.2" fill="#333" opacity="0.03"/>
<rect x="402.05" y="228.4" width="9.9" height="13.2" fill="#333" opacity="0.03"/>
<rect x="418.25" y="228.4" width="15.9" height="13.2" fill="#333" opacity="0.03"/>
<rect x="437.5" y="228.4" width="13.4" height="13.2" fill="#333" opacity="0.03"/>
<rect x="327" y="228.4" width="8.4" height="13.2" fill="#333" opacity="0.01"/>
<rect x="345.5" y="228.4" width="8.4" height="13.2" fill="#333" opacity="0.01"/>
<rect x="364" y="228.4" width="8.4" height="13.2" fill="#333" opacity="0.01"/>
<rect x="383.2" y="228.4" width="8.4" height="13.2" fill="#333" opacity="0.01"/>
<rect x="402.5" y="228.4" width="8.4" height="13.2" fill="#333" opacity="0.01"/>
<rect x="422" y="228.4" width="8.4" height="13.2" fill="#333" opacity="0.01"/>
<ellipse cx="313" cy="235.4" rx="8.55" ry="3.6" fill="#333" opacity="0.39"/>
<ellipse cx="334.3" cy="236" rx="6.8" ry="3.5" fill="#333" opacity="0.36"/>
<ellipse cx="350.8" cy="236.2" rx="6.8" ry="3.5" fill="#333" opacity="0.38"/>
<ellipse cx="369" cy="236.4" rx="7.55" ry="3.3" fill="#333" opacity="0.21"/>
<ellipse cx="388.6" cy="237" rx="6.05" ry="3.5" fill="#333" opacity="0.36"/>
<ellipse cx="407" cy="236.8" rx="7.05" ry="3.5" fill="#333" opacity="0.36"/>
<ellipse cx="426.2" cy="236.3" rx="10.05" ry="4.2" fill="#333" opacity="0.42"/>
<ellipse cx="444.2" cy="235.2" rx="8.8" ry="3.5" fill="#333" opacity="0.39"/>
<ellipse cx="331.2" cy="232.3" rx="6.3" ry="2.6" fill="#333" opacity="0.04"/>
<ellipse cx="349.7" cy="232.3" rx="6.3" ry="2.6" fill="#333" opacity="0.04"/>
<ellipse cx="368.2" cy="232.3" rx="6.3" ry="2.6" fill="#333" opacity="0.04"/>
<ellipse cx="387.4" cy="232.3" rx="6.3" ry="2.6" fill="#333" opacity="0.04"/>
<ellipse cx="406.7" cy="232.3" rx="6.3" ry="2.6" fill="#333" opacity="0.04"/>
<ellipse cx="426.2" cy="232.3" rx="6.3" ry="2.6" fill="#333" opacity="0.04"/>
</g>
<g filter="url(#bl)">
<rect x="305.75" y="234" width="14.5" height="2.8" rx="1.4" fill="#080808" opacity="0.92"/>
<rect x="328.8" y="234.7" width="11" height="2.6" rx="1.3" fill="#080808" opacity="0.86"/>
<rect x="345.3" y="234.9" width="11" height="2.6" rx="1.3" fill="#080808" opacity="0.9"/>
<rect x="362.75" y="235.3" width="12.5" height="2.2" rx="1.1" fill="#080808" opacity="0.5"/>
<rect x="383.85" y="235.7" width="9.5" height="2.6" rx="1.3" fill="#080808" opacity="0.86"/>
<rect x="401.25" y="235.5" width="11.5" height="2.6" rx="1.3" fill="#080808" opacity="0.86"/>
<rect x="417.45" y="234.3" width="17.5" height="4" rx="2" fill="#080808" opacity="1"/>
<rect x="436.7" y="233.9" width="15" height="2.6" rx="1.3" fill="#080808" opacity="0.92"/>
<rect x="326.2" y="231.9" width="10" height="0.8" rx="0.4" fill="#080808" opacity="0.1"/>
<rect x="344.7" y="231.9" width="10" height="0.8" rx="0.4" fill="#080808" opacity="0.1"/>
<rect x="363.2" y="231.9" width="10" height="0.8" rx="0.4" fill="#080808" opacity="0.1"/>
<rect x="382.4" y="231.9" width="10" height="0.8" rx="0.4" fill="#080808" opacity="0.1"/>
<rect x="401.7" y="231.9" width="10" height="0.8" rx="0.4" fill="#080808" opacity="0.1"/>
<rect x="421.2" y="231.9" width="10" height="0.8" rx="0.4" fill="#080808" opacity="0.1"/>
</g></g>
<rect x="303" y="228.4" width="153.6" height="13.2" fill="none" stroke="#1a1a1a" stroke-width="1.2"/>
<text x="459.8" y="237.8" font-size="7.8" stroke="#111" stroke-width="0.2">p65</text>
<line x1="300.8" y1="198.5" x2="300.8" y2="241.4" stroke="#111" stroke-width="0.9"/>
<text x="0" y="0" font-size="7.3" text-anchor="middle" transform="translate(289.8 219.6) rotate(-90)" stroke="#111" stroke-width="0.2">Nuclear</text>
<text x="0" y="0" font-size="7.3" text-anchor="middle" transform="translate(298.2 219.6) rotate(-90)" stroke="#111" stroke-width="0.2">fraction</text>
<text x="0" y="0" font-size="12" font-weight="bold" fill="#000" transform="translate(7.7 325) scale(0.95 1)" stroke="#000" stroke-width="0.3">D</text>
<rect x="47.6" y="365.9" width="13" height="30.9" fill="#b40d2e"/>
<line x1="54.1" y1="365.9" x2="54.1" y2="364.97" stroke="#222" stroke-width="0.9"/>
<line x1="52.3" y1="364.97" x2="55.9" y2="364.97" stroke="#222" stroke-width="0.9"/>
<rect x="78.9" y="354.47" width="13" height="42.33" fill="#b40d2e"/>
<line x1="85.4" y1="354.47" x2="85.4" y2="350.76" stroke="#222" stroke-width="0.9"/>
<line x1="83.6" y1="350.76" x2="87.2" y2="350.76" stroke="#222" stroke-width="0.9"/>
<rect x="110" y="349.83" width="13" height="46.97" fill="#b40d2e"/>
<line x1="116.5" y1="349.83" x2="116.5" y2="347.36" stroke="#222" stroke-width="0.9"/>
<line x1="114.7" y1="347.36" x2="118.3" y2="347.36" stroke="#222" stroke-width="0.9"/>
<line x1="38.9" y1="333" x2="38.9" y2="397.4" stroke="#111" stroke-width="1.3"/>
<line x1="38.4" y1="396.8" x2="131" y2="396.8" stroke="#111" stroke-width="1.2"/>
<line x1="35.5" y1="396.8" x2="38.9" y2="396.8" stroke="#111" stroke-width="0.9"/>
<text x="32.5" y="399.1" font-size="6.4" text-anchor="end" stroke="#111" stroke-width="0.2">0</text>
<line x1="35.5" y1="384.44" x2="38.9" y2="384.44" stroke="#111" stroke-width="0.9"/>
<text x="32.5" y="386.74" font-size="6.4" text-anchor="end" stroke="#111" stroke-width="0.2">20</text>
<line x1="35.5" y1="372.08" x2="38.9" y2="372.08" stroke="#111" stroke-width="0.9"/>
<text x="32.5" y="374.38" font-size="6.4" text-anchor="end" stroke="#111" stroke-width="0.2">40</text>
<line x1="35.5" y1="359.72" x2="38.9" y2="359.72" stroke="#111" stroke-width="0.9"/>
<text x="32.5" y="362.02" font-size="6.4" text-anchor="end" stroke="#111" stroke-width="0.2">60</text>
<line x1="35.5" y1="347.36" x2="38.9" y2="347.36" stroke="#111" stroke-width="0.9"/>
<text x="32.5" y="349.66" font-size="6.4" text-anchor="end" stroke="#111" stroke-width="0.2">80</text>
<line x1="35.5" y1="335" x2="38.9" y2="335" stroke="#111" stroke-width="0.9"/>
<text x="32.5" y="337.3" font-size="6.4" text-anchor="end" stroke="#111" stroke-width="0.2">100</text>
<text x="0" y="0" font-size="7" text-anchor="middle" font-weight="bold" transform="translate(14.2 364.2) rotate(-90) scale(0.84 1)" stroke="#111" stroke-width="0.2">% of viability</text>
<path d="M54.3 364.6 V337.6 H116.6 V344.6" fill="none" stroke="#111" stroke-width="1.1"/>
<path d="M115.1 343.45 L118.1 343.45 L116.6 345.8 Z" fill="#111"/>
<path d="M54.3 345.2 H85.6 V349" fill="none" stroke="#111" stroke-width="1.1"/>
<path d="M84.1 347.85 L87.1 347.85 L85.6 350.2 Z" fill="#111"/>
<text x="70" y="346.28" font-size="8" text-anchor="middle" font-weight="bold" stroke="#111" stroke-width="0.45" letter-spacing="0.1">*</text>
<text x="85.7" y="338.28" font-size="8" text-anchor="middle" font-weight="bold" stroke="#111" stroke-width="0.45" letter-spacing="0.1">*</text>
<text x="0" y="0" font-size="7.1" text-anchor="end" transform="translate(59.4 402) rotate(-45)" stroke="#111" stroke-width="0.2">ROR1 2A2</text>
<text x="0" y="0" font-size="7.1" text-anchor="end" transform="translate(88.8 402) rotate(-45)" stroke="#111" stroke-width="0.2">ROR1 2A2 +</text>
<text x="0" y="0" font-size="6.8" text-anchor="end" transform="translate(86.6 415.8) rotate(-45)" stroke="#111" stroke-width="0.2">BAFF</text>
<text x="0" y="0" font-size="7.1" text-anchor="end" transform="translate(120.2 402) rotate(-45)" stroke="#111" stroke-width="0.2">ROR1 2A2 +</text>
<text x="0" y="0" font-size="6.6" text-anchor="end" transform="translate(118.6 416) rotate(-45)" stroke="#111" stroke-width="0.2">TNF-α</text>
<text x="0" y="0" font-size="12" font-weight="bold" fill="#000" transform="translate(148.6 324.9) scale(0.95 1)" stroke="#000" stroke-width="0.3">E</text>
<text x="168.2" y="337.6" font-size="7" text-anchor="middle" stroke="#111" stroke-width="0.2">-</text>
<text x="190" y="337.6" font-size="7" text-anchor="middle" stroke="#111" stroke-width="0.2">-</text>
<text x="210.8" y="337.6" font-size="7" text-anchor="middle" stroke="#111" stroke-width="0.2">+</text>
<text x="168.2" y="352" font-size="7" text-anchor="middle" stroke="#111" stroke-width="0.2">-</text>
<text x="190" y="352" font-size="7" text-anchor="middle" stroke="#111" stroke-width="0.2">+</text>
<text x="210.8" y="352" font-size="7" text-anchor="middle" stroke="#111" stroke-width="0.2">-</text>
<text x="224.3" y="344.8" font-size="6.4" stroke="#111" stroke-width="0.2">TNFα</text>
<text x="224.3" y="352.4" font-size="6.4" stroke="#111" stroke-width="0.2">BAFF</text>
<g clip-path="url(#c12)">
<rect x="159.4" y="355.2" width="60.2" height="10.6" fill="#dadada"/>
<g filter="url(#bl2)">
<ellipse cx="176.48" cy="357.48" rx="4.55" ry="3.27" fill="#fff" opacity="0.11"/>
<ellipse cx="164.27" cy="363.55" rx="7.14" ry="2.71" fill="#555" opacity="0.11"/>
<ellipse cx="183.56" cy="359.38" rx="8.44" ry="2.05" fill="#fff" opacity="0.12"/>
<ellipse cx="171.81" cy="357.99" rx="5.9" ry="3.77" fill="#555" opacity="0.12"/>
<ellipse cx="173.46" cy="360.09" rx="7.76" ry="3.29" fill="#555" opacity="0.09"/>
<ellipse cx="180.38" cy="358.66" rx="7.31" ry="3.48" fill="#555" opacity="0.06"/>
<ellipse cx="169.61" cy="359.85" rx="4.63" ry="2.92" fill="#555" opacity="0.11"/>
<rect x="162.3" y="355.2" width="14.4" height="10.6" fill="#333" opacity="0.04"/>
<rect x="181.85" y="355.2" width="15.9" height="10.6" fill="#333" opacity="0.06"/>
<rect x="203.75" y="355.2" width="12.9" height="10.6" fill="#333" opacity="0.05"/>
<ellipse cx="169.5" cy="359.8" rx="9.3" ry="3.8" fill="#333" opacity="0.06"/>
<ellipse cx="189.8" cy="359.6" rx="10.05" ry="4.3" fill="#333" opacity="0.19"/>
<rect x="181.55" y="356.5" width="16.5" height="2" fill="#222" opacity="0.29"/>
<ellipse cx="210.2" cy="360.4" rx="8.55" ry="4.1" fill="#333" opacity="0.13"/>
</g>
<g filter="url(#bl)">
<rect x="161.5" y="358.2" width="16" height="3.2" rx="1.6" fill="#080808" opacity="0.14"/>
<rect x="181.05" y="357.5" width="17.5" height="4.2" rx="2.1" fill="#080808" opacity="0.46"/>
<rect x="202.95" y="358.5" width="14.5" height="3.8" rx="1.9" fill="#080808" opacity="0.3"/>
</g></g>
<rect x="159.4" y="355.2" width="60.2" height="10.6" fill="none" stroke="#1a1a1a" stroke-width="1.2"/>
<g clip-path="url(#c13)">
<rect x="159.4" y="367.6" width="60.2" height="11.8" fill="#e6e6e6"/>
<g filter="url(#bl2)">
<ellipse cx="212.68" cy="370.41" rx="7.52" ry="3.69" fill="#fff" opacity="0.07"/>
<ellipse cx="168.71" cy="369.44" rx="6.61" ry="2.32" fill="#fff" opacity="0.07"/>
<ellipse cx="179.15" cy="369.83" rx="4.51" ry="3.92" fill="#555" opacity="0.13"/>
<ellipse cx="165.52" cy="372.13" rx="7.67" ry="2.87" fill="#555" opacity="0.13"/>
<ellipse cx="171.21" cy="375.13" rx="5.94" ry="2.07" fill="#fff" opacity="0.06"/>
<ellipse cx="183.42" cy="376.93" rx="7.16" ry="2.93" fill="#555" opacity="0.11"/>
<ellipse cx="167.94" cy="374.72" rx="8.54" ry="2.86" fill="#555" opacity="0.08"/>
<rect x="162.1" y="367.6" width="15.4" height="11.8" fill="#333" opacity="0.04"/>
<rect x="182.1" y="367.6" width="15.4" height="11.8" fill="#333" opacity="0.04"/>
<rect x="200.45" y="367.6" width="17.9" height="11.8" fill="#333" opacity="0.04"/>
<ellipse cx="169.8" cy="373.4" rx="9.8" ry="3.7" fill="#333" opacity="0.39"/>
<ellipse cx="189.8" cy="373.2" rx="9.8" ry="3.9" fill="#333" opacity="0.4"/>
<ellipse cx="209.4" cy="373" rx="11.05" ry="5.5" fill="#333" opacity="0.42"/>
</g>
<g filter="url(#bl)">
<rect x="161.3" y="371.9" width="17" height="3" rx="1.5" fill="#080808" opacity="0.92"/>
<rect x="181.3" y="371.5" width="17" height="3.4" rx="1.7" fill="#080808" opacity="0.95"/>
<rect x="199.65" y="369.7" width="19.5" height="6.6" rx="2.4" fill="#080808" opacity="1"/>
</g></g>
<rect x="159.4" y="367.6" width="60.2" height="11.8" fill="none" stroke="#1a1a1a" stroke-width="1.2"/>
<g clip-path="url(#c14)">
<rect x="159.4" y="381.3" width="60.2" height="10.4" fill="#dcdcdc"/>
<g filter="url(#bl2)">
<ellipse cx="193.95" cy="389.09" rx="7.61" ry="3.76" fill="#fff" opacity="0.08"/>
<ellipse cx="206" cy="388.58" rx="7.21" ry="2.91" fill="#555" opacity="0.12"/>
<ellipse cx="178.24" cy="387.83" rx="7.91" ry="3.43" fill="#fff" opacity="0.06"/>
<ellipse cx="197.3" cy="383.9" rx="7.11" ry="2.82" fill="#fff" opacity="0.08"/>
<ellipse cx="200.05" cy="390.97" rx="7.89" ry="2.78" fill="#555" opacity="0.06"/>
<ellipse cx="188.89" cy="391.44" rx="4.8" ry="3.56" fill="#555" opacity="0.05"/>
<ellipse cx="216.02" cy="386.7" rx="6.71" ry="3.43" fill="#555" opacity="0.06"/>
<rect x="161.85" y="381.3" width="15.9" height="10.4" fill="#333" opacity="0.05"/>
<rect x="181.85" y="381.3" width="15.9" height="10.4" fill="#333" opacity="0.06"/>
<rect x="202.15" y="381.3" width="14.9" height="10.4" fill="#333" opacity="0.05"/>
<ellipse cx="169.8" cy="386.6" rx="10.05" ry="3.8" fill="#333" opacity="0.36"/>
<ellipse cx="189.8" cy="386.4" rx="10.05" ry="3.9" fill="#333" opacity="0.38"/>
<ellipse cx="209.6" cy="386" rx="9.55" ry="3.9" fill="#333" opacity="0.36"/>
</g>
<g filter="url(#bl)">
<rect x="161.05" y="385" width="17.5" height="3.2" rx="1.6" fill="#080808" opacity="0.85"/>
<rect x="181.05" y="384.7" width="17.5" height="3.4" rx="1.7" fill="#080808" opacity="0.9"/>
<rect x="201.35" y="384.3" width="16.5" height="3.4" rx="1.7" fill="#080808" opacity="0.85"/>
</g></g>
<rect x="159.4" y="381.3" width="60.2" height="10.4" fill="none" stroke="#1a1a1a" stroke-width="1.2"/>
<text x="224.3" y="362.6" font-size="6.4" stroke="#111" stroke-width="0.2">p52</text>
<text x="224.3" y="375.6" font-size="6.4" stroke="#111" stroke-width="0.2">p65</text>
<text x="224.3" y="388.6" font-size="6.4" stroke="#111" stroke-width="0.2">Histone H3</text>
<text x="0" y="0" font-size="12" font-weight="bold" fill="#000" transform="translate(9.1 462.4) scale(0.95 1)" stroke="#000" stroke-width="0.3">F</text>
<rect x="48.8" y="500.49" width="8.9" height="50.11" fill="#b40d2e"/>
<line x1="53.25" y1="500.49" x2="53.25" y2="496.56" stroke="#222" stroke-width="0.9"/>
<line x1="51.65" y1="496.56" x2="54.85" y2="496.56" stroke="#222" stroke-width="0.9"/>
<rect x="60.1" y="498.04" width="8.9" height="52.56" fill="#4d5566"/>
<line x1="64.55" y1="498.04" x2="64.55" y2="495.09" stroke="#222" stroke-width="0.9"/>
<line x1="62.95" y1="495.09" x2="66.15" y2="495.09" stroke="#222" stroke-width="0.9"/>
<text x="58.9" y="559.4" font-size="6.3" text-anchor="middle" stroke="#111" stroke-width="0.2">Jeko-1</text>
<rect x="88.9" y="507.37" width="8.9" height="43.23" fill="#b40d2e"/>
<line x1="93.35" y1="507.37" x2="93.35" y2="506.19" stroke="#222" stroke-width="0.9"/>
<line x1="91.75" y1="506.19" x2="94.95" y2="506.19" stroke="#222" stroke-width="0.9"/>
<rect x="100.2" y="489.69" width="8.9" height="60.92" fill="#4d5566"/>
<line x1="104.65" y1="489.69" x2="104.65" y2="485.26" stroke="#222" stroke-width="0.9"/>
<line x1="103.05" y1="485.26" x2="106.25" y2="485.26" stroke="#222" stroke-width="0.9"/>
<text x="99" y="559.4" font-size="6.3" text-anchor="middle" stroke="#111" stroke-width="0.2">Mino</text>
<rect x="128.9" y="497.55" width="8.9" height="53.06" fill="#b40d2e"/>
<line x1="133.35" y1="497.55" x2="133.35" y2="496.96" stroke="#222" stroke-width="0.9"/>
<line x1="131.75" y1="496.96" x2="134.95" y2="496.96" stroke="#222" stroke-width="0.9"/>
<rect x="140.2" y="486.25" width="8.9" height="64.35" fill="#4d5566"/>
<line x1="144.65" y1="486.25" x2="144.65" y2="485.46" stroke="#222" stroke-width="0.9"/>
<line x1="143.05" y1="485.46" x2="146.25" y2="485.46" stroke="#222" stroke-width="0.9"/>
<text x="139" y="559.4" font-size="6.3" text-anchor="middle" stroke="#111" stroke-width="0.2">Maver-1</text>
<rect x="169.3" y="507.37" width="8.9" height="43.23" fill="#b40d2e"/>
<line x1="173.75" y1="507.37" x2="173.75" y2="506.39" stroke="#222" stroke-width="0.9"/>
<line x1="172.15" y1="506.39" x2="175.35" y2="506.39" stroke="#222" stroke-width="0.9"/>
<rect x="180.6" y="495.09" width="8.9" height="55.51" fill="#4d5566"/>
<line x1="185.05" y1="495.09" x2="185.05" y2="494.5" stroke="#222" stroke-width="0.9"/>
<line x1="183.45" y1="494.5" x2="186.65" y2="494.5" stroke="#222" stroke-width="0.9"/>
<text x="179.4" y="559.4" font-size="6.3" text-anchor="middle" stroke="#111" stroke-width="0.2">Z-138</text>
<line x1="38.5" y1="470" x2="38.5" y2="551.2" stroke="#111" stroke-width="1.3"/>
<line x1="38" y1="550.6" x2="200" y2="550.6" stroke="#111" stroke-width="1.2"/>
<line x1="35.1" y1="550.6" x2="38.5" y2="550.6" stroke="#111" stroke-width="0.9"/>
<text x="32.1" y="552.9" font-size="6.4" text-anchor="end" stroke="#111" stroke-width="0.2">0</text>
<line x1="35.1" y1="530.95" x2="38.5" y2="530.95" stroke="#111" stroke-width="0.9"/>
<text x="32.1" y="533.25" font-size="6.4" text-anchor="end" stroke="#111" stroke-width="0.2">20</text>
<line x1="35.1" y1="511.3" x2="38.5" y2="511.3" stroke="#111" stroke-width="0.9"/>
<text x="32.1" y="513.6" font-size="6.4" text-anchor="end" stroke="#111" stroke-width="0.2">40</text>
<line x1="35.1" y1="491.65" x2="38.5" y2="491.65" stroke="#111" stroke-width="0.9"/>
<text x="32.1" y="493.95" font-size="6.4" text-anchor="end" stroke="#111" stroke-width="0.2">60</text>
<line x1="35.1" y1="472" x2="38.5" y2="472" stroke="#111" stroke-width="0.9"/>
<text x="32.1" y="474.3" font-size="6.4" text-anchor="end" stroke="#111" stroke-width="0.2">80</text>
<text x="0" y="0" font-size="7.4" text-anchor="middle" font-weight="bold" transform="translate(18.4 509.2) rotate(-90) scale(0.87 1)" stroke="#111" stroke-width="0.2">Viability (%)</text>
<path d="M93.3 506 V476.8 H105 V484.8" fill="none" stroke="#111" stroke-width="1.1"/>
<path d="M103.6 484.18 L106.4 484.18 L105 486.4 Z" fill="#111"/>
<text x="99.15" y="476.48" font-size="8" text-anchor="middle" font-weight="bold" stroke="#111" stroke-width="0.45" letter-spacing="0.1">*</text>
<path d="M133.7 496 V476.3 H145.7 V483.4" fill="none" stroke="#111" stroke-width="1.1"/>
<path d="M144.3 482.78 L147.1 482.78 L145.7 485 Z" fill="#111"/>
<text x="139.7" y="475.68" font-size="8" text-anchor="middle" font-weight="bold" stroke="#111" stroke-width="0.45" letter-spacing="0.1">**</text>
<path d="M173.8 505.5 V486.3 H186.2 V492" fill="none" stroke="#111" stroke-width="1.1"/>
<path d="M184.8 491.38 L187.6 491.38 L186.2 493.6 Z" fill="#111"/>
<text x="180" y="485.68" font-size="8" text-anchor="middle" font-weight="bold" stroke="#111" stroke-width="0.45" letter-spacing="0.1">*</text>
<rect x="62" y="570" width="3" height="3" fill="#b40d2e"/>
<text x="68.7" y="573.9" font-size="6.5" stroke="#111" stroke-width="0.2">ROR1 2A2</text>
<rect x="110.5" y="570" width="3" height="3" fill="#4d5566"/>
<text x="117" y="573.9" font-size="6.65" stroke="#111" stroke-width="0.2">ROR1 2A2 + Wnt5a</text>
<text x="0" y="0" font-size="12" font-weight="bold" fill="#000" transform="translate(7.5 601.8) scale(0.95 1)" stroke="#000" stroke-width="0.3">G</text>
<text x="54.8" y="616" font-size="8.2" text-anchor="middle" stroke="#111" stroke-width="0.2">Jeko-1</text>
<text x="92" y="616" font-size="8.2" text-anchor="middle" stroke="#111" stroke-width="0.2">Mino</text>
<text x="128.8" y="616" font-size="8.2" text-anchor="middle" stroke="#111" stroke-width="0.2">Maver-1</text>
<text x="168.6" y="616" font-size="8.2" text-anchor="middle" stroke="#111" stroke-width="0.2">Z-138</text>
<text x="46.8" y="623.8" font-size="6.5" text-anchor="middle" stroke="#111" stroke-width="0.2">-</text>
<text x="63.8" y="623.8" font-size="6.5" text-anchor="middle" stroke="#111" stroke-width="0.2">+</text>
<text x="81.8" y="623.8" font-size="6.5" text-anchor="middle" stroke="#111" stroke-width="0.2">-</text>
<text x="100.8" y="623.8" font-size="6.5" text-anchor="middle" stroke="#111" stroke-width="0.2">+</text>
<text x="119.2" y="623.8" font-size="6.5" text-anchor="middle" stroke="#111" stroke-width="0.2">-</text>
<text x="137.6" y="623.8" font-size="6.5" text-anchor="middle" stroke="#111" stroke-width="0.2">+</text>
<text x="157.5" y="623.8" font-size="6.5" text-anchor="middle" stroke="#111" stroke-width="0.2">-</text>
<text x="176.3" y="623.8" font-size="6.5" text-anchor="middle" stroke="#111" stroke-width="0.2">+</text>
<text x="191.6" y="623.4" font-size="6.5" stroke="#111" stroke-width="0.2">Wnt5a</text>
<g clip-path="url(#c15)">
<rect x="36.3" y="625.4" width="152.5" height="15.8" fill="#dedede"/>
<g filter="url(#bl2)">
<ellipse cx="114.41" cy="635.5" rx="6.05" ry="3.9" fill="#555" opacity="0.12"/>
<ellipse cx="68.34" cy="636.21" rx="4.61" ry="3.97" fill="#555" opacity="0.08"/>
<ellipse cx="90.51" cy="626.29" rx="4.07" ry="2.84" fill="#fff" opacity="0.07"/>
<ellipse cx="100.43" cy="636.43" rx="5.12" ry="3.48" fill="#fff" opacity="0.08"/>
<ellipse cx="179.64" cy="633.73" rx="5.96" ry="2.42" fill="#555" opacity="0.07"/>
<ellipse cx="56.02" cy="637.67" rx="6.35" ry="3.12" fill="#555" opacity="0.11"/>
<ellipse cx="70.76" cy="640.63" rx="8.09" ry="3.63" fill="#555" opacity="0.08"/>
<ellipse cx="107.69" cy="630.05" rx="8.17" ry="2.71" fill="#fff" opacity="0.09"/>
<ellipse cx="166.03" cy="629.63" rx="6.13" ry="2.37" fill="#fff" opacity="0.08"/>
<ellipse cx="36.71" cy="636.8" rx="5.51" ry="2.96" fill="#fff" opacity="0.07"/>
<ellipse cx="101.65" cy="635.47" rx="8.64" ry="3.71" fill="#fff" opacity="0.1"/>
<ellipse cx="45" cy="638.48" rx="4.7" ry="3.66" fill="#555" opacity="0.12"/>
<ellipse cx="132.86" cy="625.64" rx="7.28" ry="2.5" fill="#555" opacity="0.05"/>
<ellipse cx="51.78" cy="627.66" rx="5.73" ry="2.31" fill="#555" opacity="0.07"/>
<ellipse cx="174.17" cy="637.91" rx="7.04" ry="3.56" fill="#555" opacity="0.06"/>
<ellipse cx="138.24" cy="639.52" rx="4.99" ry="3.39" fill="#555" opacity="0.11"/>
<ellipse cx="117.25" cy="637.12" rx="6.78" ry="2.53" fill="#555" opacity="0.09"/>
<ellipse cx="72.01" cy="627.6" rx="6.34" ry="2.29" fill="#fff" opacity="0.09"/>
<ellipse cx="111.23" cy="633.27" rx="4.03" ry="3.68" fill="#555" opacity="0.09"/>
<rect x="39.5" y="625.4" width="12.8" height="15.8" fill="#333" opacity="0.07"/>
<rect x="57.7" y="625.4" width="12.8" height="15.8" fill="#333" opacity="0.07"/>
<rect x="76.3" y="625.4" width="12.6" height="15.8" fill="#333" opacity="0.08"/>
<rect x="94.3" y="625.4" width="14.6" height="15.8" fill="#333" opacity="0.08"/>
<rect x="114.05" y="625.4" width="10.9" height="15.8" fill="#333" opacity="0.05"/>
<rect x="132.75" y="625.4" width="13.9" height="15.8" fill="#333" opacity="0.07"/>
<rect x="152.05" y="625.4" width="11.9" height="15.8" fill="#333" opacity="0.04"/>
<rect x="171.35" y="625.4" width="13.9" height="15.8" fill="#333" opacity="0.08"/>
<ellipse cx="45.9" cy="633.6" rx="8.5" ry="3.5" fill="#333" opacity="0.34"/>
<ellipse cx="64.1" cy="634" rx="8.5" ry="3.7" fill="#333" opacity="0.36"/>
<ellipse cx="82.6" cy="634.8" rx="8.4" ry="4.5" fill="#333" opacity="0.41"/>
<rect x="76" y="629.5" width="13.2" height="4" fill="#222" opacity="0.6"/>
<ellipse cx="101.6" cy="634.4" rx="9.4" ry="5" fill="#333" opacity="0.42"/>
<rect x="94" y="627.6" width="15.2" height="5" fill="#222" opacity="0.62"/>
<ellipse cx="119.5" cy="633.8" rx="7.55" ry="3.5" fill="#333" opacity="0.18"/>
<ellipse cx="139.7" cy="633.8" rx="9.05" ry="4.2" fill="#333" opacity="0.38"/>
<rect x="132.45" y="630.3" width="14.5" height="2.5" fill="#222" opacity="0.56"/>
<ellipse cx="158" cy="634" rx="8.05" ry="3.3" fill="#333" opacity="0.12"/>
<ellipse cx="178.3" cy="632.6" rx="9.05" ry="3.8" fill="#333" opacity="0.39"/>
</g>
<g filter="url(#bl)">
<rect x="38.7" y="632.3" width="14.4" height="2.6" rx="1.3" fill="#080808" opacity="0.82"/>
<rect x="56.9" y="632.5" width="14.4" height="3" rx="1.5" fill="#080808" opacity="0.86"/>
<rect x="75.5" y="632.5" width="14.2" height="4.6" rx="2.3" fill="#080808" opacity="0.97"/>
<rect x="93.5" y="631.6" width="16.2" height="5.6" rx="2.4" fill="#080808" opacity="1"/>
<rect x="113.25" y="632.5" width="12.5" height="2.6" rx="1.3" fill="#080808" opacity="0.42"/>
<rect x="131.95" y="631.8" width="15.5" height="4" rx="2" fill="#080808" opacity="0.9"/>
<rect x="151.25" y="632.9" width="13.5" height="2.2" rx="1.1" fill="#080808" opacity="0.28"/>
<rect x="170.55" y="631" width="15.5" height="3.2" rx="1.6" fill="#080808" opacity="0.92"/>
</g></g>
<rect x="36.3" y="625.4" width="152.5" height="15.8" fill="none" stroke="#1a1a1a" stroke-width="1.2"/>
<g clip-path="url(#c16)">
<rect x="36.3" y="644.2" width="152.5" height="12.2" fill="#dcdcdc"/>
<g filter="url(#bl2)">
<ellipse cx="107.66" cy="651.06" rx="5.87" ry="2.84" fill="#555" opacity="0.1"/>
<ellipse cx="182.79" cy="645.12" rx="4.14" ry="3.22" fill="#555" opacity="0.1"/>
<ellipse cx="140.39" cy="655.56" rx="6.55" ry="2.97" fill="#555" opacity="0.08"/>
<ellipse cx="173.18" cy="644.61" rx="5.69" ry="3.72" fill="#555" opacity="0.11"/>
<ellipse cx="92.14" cy="649.99" rx="5.05" ry="2.87" fill="#555" opacity="0.09"/>
<ellipse cx="100.71" cy="650.96" rx="8.14" ry="2.81" fill="#fff" opacity="0.12"/>
<ellipse cx="113.12" cy="647.51" rx="7.27" ry="3.58" fill="#555" opacity="0.09"/>
<ellipse cx="86.76" cy="648.07" rx="7.17" ry="3.57" fill="#555" opacity="0.07"/>
<ellipse cx="42.41" cy="653.02" rx="4.25" ry="2.6" fill="#555" opacity="0.12"/>
<ellipse cx="37.25" cy="646.52" rx="7.29" ry="3.58" fill="#555" opacity="0.12"/>
<ellipse cx="175.05" cy="651.66" rx="7.48" ry="3.19" fill="#555" opacity="0.1"/>
<ellipse cx="140.15" cy="646.79" rx="7.81" ry="2.2" fill="#fff" opacity="0.1"/>
<ellipse cx="63.95" cy="644.65" rx="7.28" ry="2.74" fill="#555" opacity="0.11"/>
<ellipse cx="161.75" cy="653.8" rx="5.51" ry="2.84" fill="#fff" opacity="0.09"/>
<ellipse cx="84.87" cy="649.45" rx="4.27" ry="3.14" fill="#555" opacity="0.1"/>
<ellipse cx="42.31" cy="645.65" rx="8.59" ry="2.89" fill="#555" opacity="0.11"/>
<ellipse cx="38.45" cy="648.92" rx="8.9" ry="2.95" fill="#555" opacity="0.1"/>
<ellipse cx="99.19" cy="645.44" rx="4.76" ry="2.03" fill="#fff" opacity="0.1"/>
<ellipse cx="37.03" cy="652.54" rx="4.44" ry="3.74" fill="#555" opacity="0.06"/>
<rect x="38.1" y="644.2" width="15.6" height="12.2" fill="#333" opacity="0.04"/>
<rect x="56.3" y="644.2" width="15.6" height="12.2" fill="#333" opacity="0.04"/>
<rect x="74.8" y="644.2" width="15.6" height="12.2" fill="#333" opacity="0.04"/>
<rect x="93.8" y="644.2" width="15.6" height="12.2" fill="#333" opacity="0.04"/>
<rect x="111.7" y="644.2" width="15.6" height="12.2" fill="#333" opacity="0.04"/>
<rect x="131.9" y="644.2" width="15.6" height="12.2" fill="#333" opacity="0.04"/>
<rect x="150.2" y="644.2" width="15.6" height="12.2" fill="#333" opacity="0.04"/>
<rect x="170.5" y="644.2" width="15.6" height="12.2" fill="#333" opacity="0.04"/>
<ellipse cx="45.9" cy="651.2" rx="9.9" ry="3.9" fill="#333" opacity="0.4"/>
<ellipse cx="64.1" cy="651.2" rx="9.9" ry="3.9" fill="#333" opacity="0.4"/>
<ellipse cx="82.6" cy="651.2" rx="9.9" ry="3.9" fill="#333" opacity="0.4"/>
<ellipse cx="101.6" cy="651.2" rx="9.9" ry="3.9" fill="#333" opacity="0.4"/>
<ellipse cx="119.5" cy="651.2" rx="9.9" ry="3.9" fill="#333" opacity="0.4"/>
<ellipse cx="139.7" cy="651.2" rx="9.9" ry="3.9" fill="#333" opacity="0.4"/>
<ellipse cx="158" cy="651.2" rx="9.9" ry="3.9" fill="#333" opacity="0.4"/>
<ellipse cx="178.3" cy="651.2" rx="9.9" ry="3.9" fill="#333" opacity="0.4"/>
</g>
<g filter="url(#bl)">
<rect x="37.3" y="649.5" width="17.2" height="3.4" rx="1.7" fill="#080808" opacity="0.95"/>
<rect x="55.5" y="649.5" width="17.2" height="3.4" rx="1.7" fill="#080808" opacity="0.95"/>
<rect x="74" y="649.5" width="17.2" height="3.4" rx="1.7" fill="#080808" opacity="0.95"/>
<rect x="93" y="649.5" width="17.2" height="3.4" rx="1.7" fill="#080808" opacity="0.95"/>
<rect x="110.9" y="649.5" width="17.2" height="3.4" rx="1.7" fill="#080808" opacity="0.95"/>
<rect x="131.1" y="649.5" width="17.2" height="3.4" rx="1.7" fill="#080808" opacity="0.95"/>
<rect x="149.4" y="649.5" width="17.2" height="3.4" rx="1.7" fill="#080808" opacity="0.95"/>
<rect x="169.7" y="649.5" width="17.2" height="3.4" rx="1.7" fill="#080808" opacity="0.95"/>
</g></g>
<rect x="36.3" y="644.2" width="152.5" height="12.2" fill="none" stroke="#1a1a1a" stroke-width="1.2"/>
<text x="191.6" y="636.2" font-size="6.5" stroke="#111" stroke-width="0.2">p65</text>
<text x="191.6" y="653" font-size="6.5" stroke="#111" stroke-width="0.2">PARP</text>
<text x="0" y="0" font-size="12" font-weight="bold" fill="#000" transform="translate(272.3 272.4) scale(1.04 1)" stroke="#000" stroke-width="0.3">H</text>
<rect x="307.5" y="297.18" width="5.7" height="74.42" fill="#56296f"/>
<line x1="310.35" y1="297.18" x2="310.35" y2="292.72" stroke="#222" stroke-width="0.8"/>
<line x1="308.85" y1="292.72" x2="311.85" y2="292.72" stroke="#222" stroke-width="0.8"/>
<rect x="314.2" y="297.18" width="5.7" height="74.42" fill="#b40d2e"/>
<line x1="317.05" y1="297.18" x2="317.05" y2="294.21" stroke="#222" stroke-width="0.8"/>
<line x1="315.55" y1="294.21" x2="318.55" y2="294.21" stroke="#222" stroke-width="0.8"/>
<rect x="328.2" y="335.51" width="5.7" height="36.09" fill="#56296f"/>
<line x1="331.05" y1="335.51" x2="331.05" y2="334.39" stroke="#222" stroke-width="0.8"/>
<line x1="329.55" y1="334.39" x2="332.55" y2="334.39" stroke="#222" stroke-width="0.8"/>
<rect x="334.9" y="315.79" width="5.7" height="55.81" fill="#b40d2e"/>
<line x1="337.75" y1="315.79" x2="337.75" y2="314.67" stroke="#222" stroke-width="0.8"/>
<line x1="336.25" y1="314.67" x2="339.25" y2="314.67" stroke="#222" stroke-width="0.8"/>
<path d="M331.05 332.89 V306.17 H337.75 V312.17" fill="none" stroke="#111" stroke-width="1.1"/>
<path d="M336.45 311.78 L339.05 311.78 L337.75 313.87 Z" fill="#111"/>
<path d="M329.75 332.1 L332.35 332.1 L331.05 334.19 Z" fill="#111"/>
<text x="334.4" y="306.05" font-size="8" text-anchor="middle" font-weight="bold" stroke="#111" stroke-width="0.45" letter-spacing="0.1">**</text>
<rect x="348.72" y="297.18" width="5.7" height="74.42" fill="#56296f"/>
<line x1="351.57" y1="297.18" x2="351.57" y2="291.97" stroke="#222" stroke-width="0.8"/>
<line x1="350.07" y1="291.97" x2="353.07" y2="291.97" stroke="#222" stroke-width="0.8"/>
<rect x="355.42" y="297.18" width="5.7" height="74.42" fill="#b40d2e"/>
<line x1="358.27" y1="297.18" x2="358.27" y2="294.95" stroke="#222" stroke-width="0.8"/>
<line x1="356.77" y1="294.95" x2="359.77" y2="294.95" stroke="#222" stroke-width="0.8"/>
<rect x="369.42" y="334.39" width="5.7" height="37.21" fill="#56296f"/>
<line x1="372.27" y1="334.39" x2="372.27" y2="329.18" stroke="#222" stroke-width="0.8"/>
<line x1="370.77" y1="329.18" x2="373.77" y2="329.18" stroke="#222" stroke-width="0.8"/>
<rect x="376.12" y="316.53" width="5.7" height="55.07" fill="#b40d2e"/>
<line x1="378.97" y1="316.53" x2="378.97" y2="313.56" stroke="#222" stroke-width="0.8"/>
<line x1="377.47" y1="313.56" x2="380.47" y2="313.56" stroke="#222" stroke-width="0.8"/>
<path d="M372.27 327.68 V305.06 H378.97 V311.06" fill="none" stroke="#111" stroke-width="1.1"/>
<path d="M377.67 310.67 L380.27 310.67 L378.97 312.75 Z" fill="#111"/>
<path d="M370.97 326.89 L373.57 326.89 L372.27 328.98 Z" fill="#111"/>
<text x="375.62" y="304.94" font-size="8" text-anchor="middle" font-weight="bold" stroke="#111" stroke-width="0.45" letter-spacing="0.1">*</text>
<rect x="389.94" y="297.18" width="5.7" height="74.42" fill="#56296f"/>
<line x1="392.79" y1="297.18" x2="392.79" y2="294.21" stroke="#222" stroke-width="0.8"/>
<line x1="391.29" y1="294.21" x2="394.29" y2="294.21" stroke="#222" stroke-width="0.8"/>
<rect x="396.64" y="297.18" width="5.7" height="74.42" fill="#b40d2e"/>
<line x1="399.49" y1="297.18" x2="399.49" y2="294.95" stroke="#222" stroke-width="0.8"/>
<line x1="397.99" y1="294.95" x2="400.99" y2="294.95" stroke="#222" stroke-width="0.8"/>
<rect x="410.64" y="322.49" width="5.7" height="49.12" fill="#56296f"/>
<line x1="413.49" y1="322.49" x2="413.49" y2="321" stroke="#222" stroke-width="0.8"/>
<line x1="411.99" y1="321" x2="414.99" y2="321" stroke="#222" stroke-width="0.8"/>
<rect x="417.34" y="313.56" width="5.7" height="58.05" fill="#b40d2e"/>
<line x1="420.19" y1="313.56" x2="420.19" y2="312.81" stroke="#222" stroke-width="0.8"/>
<line x1="418.69" y1="312.81" x2="421.69" y2="312.81" stroke="#222" stroke-width="0.8"/>
<path d="M413.49 319.5 V304.31 H420.19 V310.31" fill="none" stroke="#111" stroke-width="1.1"/>
<path d="M418.89 309.92 L421.49 309.92 L420.19 312.01 Z" fill="#111"/>
<path d="M412.19 318.71 L414.79 318.71 L413.49 320.8 Z" fill="#111"/>
<text x="416.84" y="304.19" font-size="8" text-anchor="middle" font-weight="bold" stroke="#111" stroke-width="0.45" letter-spacing="0.1">**</text>
<rect x="431.16" y="297.18" width="5.7" height="74.42" fill="#56296f"/>
<line x1="434.01" y1="297.18" x2="434.01" y2="292.72" stroke="#222" stroke-width="0.8"/>
<line x1="432.51" y1="292.72" x2="435.51" y2="292.72" stroke="#222" stroke-width="0.8"/>
<rect x="437.86" y="297.18" width="5.7" height="74.42" fill="#b40d2e"/>
<line x1="440.71" y1="297.18" x2="440.71" y2="293.46" stroke="#222" stroke-width="0.8"/>
<line x1="439.21" y1="293.46" x2="442.21" y2="293.46" stroke="#222" stroke-width="0.8"/>
<rect x="451.86" y="331.42" width="5.7" height="40.19" fill="#56296f"/>
<line x1="454.71" y1="331.42" x2="454.71" y2="327.69" stroke="#222" stroke-width="0.8"/>
<line x1="453.21" y1="327.69" x2="456.21" y2="327.69" stroke="#222" stroke-width="0.8"/>
<rect x="458.56" y="322.49" width="5.7" height="49.12" fill="#b40d2e"/>
<line x1="461.41" y1="322.49" x2="461.41" y2="319.51" stroke="#222" stroke-width="0.8"/>
<line x1="459.91" y1="319.51" x2="462.91" y2="319.51" stroke="#222" stroke-width="0.8"/>
<path d="M454.71 326.19 V315.91 H461.41 V317.01" fill="none" stroke="#111" stroke-width="1.1"/>
<path d="M460.11 316.62 L462.71 316.62 L461.41 318.71 Z" fill="#111"/>
<path d="M453.41 325.4 L456.01 325.4 L454.71 327.49 Z" fill="#111"/>
<text x="458.06" y="315.79" font-size="8" text-anchor="middle" font-weight="bold" stroke="#111" stroke-width="0.45" letter-spacing="0.1">**</text>
<rect x="472.38" y="297.18" width="5.7" height="74.42" fill="#56296f"/>
<line x1="475.23" y1="297.18" x2="475.23" y2="289.74" stroke="#222" stroke-width="0.8"/>
<line x1="473.73" y1="289.74" x2="476.73" y2="289.74" stroke="#222" stroke-width="0.8"/>
<rect x="479.08" y="297.18" width="5.7" height="74.42" fill="#b40d2e"/>
<line x1="481.93" y1="297.18" x2="481.93" y2="292.72" stroke="#222" stroke-width="0.8"/>
<line x1="480.43" y1="292.72" x2="483.43" y2="292.72" stroke="#222" stroke-width="0.8"/>
<rect x="493.08" y="303.88" width="5.7" height="67.72" fill="#56296f"/>
<line x1="495.93" y1="303.88" x2="495.93" y2="296.44" stroke="#222" stroke-width="0.8"/>
<line x1="494.43" y1="296.44" x2="497.43" y2="296.44" stroke="#222" stroke-width="0.8"/>
<rect x="499.78" y="303.88" width="5.7" height="67.72" fill="#b40d2e"/>
<line x1="502.63" y1="303.88" x2="502.63" y2="300.9" stroke="#222" stroke-width="0.8"/>
<line x1="501.13" y1="300.9" x2="504.13" y2="300.9" stroke="#222" stroke-width="0.8"/>
<line x1="303.4" y1="280" x2="303.4" y2="372.2" stroke="#111" stroke-width="1.3"/>
<line x1="302.9" y1="371.6" x2="510" y2="371.6" stroke="#111" stroke-width="1.2"/>
<line x1="300" y1="371.6" x2="303.4" y2="371.6" stroke="#111" stroke-width="0.9"/>
<text x="297" y="373.9" font-size="6.4" text-anchor="end" stroke="#111" stroke-width="0.2">0</text>
<line x1="300" y1="356.72" x2="303.4" y2="356.72" stroke="#111" stroke-width="0.9"/>
<text x="297" y="359.02" font-size="6.4" text-anchor="end" stroke="#111" stroke-width="0.2">20</text>
<line x1="300" y1="341.83" x2="303.4" y2="341.83" stroke="#111" stroke-width="0.9"/>
<text x="297" y="344.13" font-size="6.4" text-anchor="end" stroke="#111" stroke-width="0.2">40</text>
<line x1="300" y1="326.95" x2="303.4" y2="326.95" stroke="#111" stroke-width="0.9"/>
<text x="297" y="329.25" font-size="6.4" text-anchor="end" stroke="#111" stroke-width="0.2">60</text>
<line x1="300" y1="312.07" x2="303.4" y2="312.07" stroke="#111" stroke-width="0.9"/>
<text x="297" y="314.37" font-size="6.4" text-anchor="end" stroke="#111" stroke-width="0.2">80</text>
<line x1="300" y1="297.18" x2="303.4" y2="297.18" stroke="#111" stroke-width="0.9"/>
<text x="297" y="299.48" font-size="6.4" text-anchor="end" stroke="#111" stroke-width="0.2">100</text>
<line x1="300" y1="282.3" x2="303.4" y2="282.3" stroke="#111" stroke-width="0.9"/>
<text x="297" y="284.6" font-size="6.4" text-anchor="end" stroke="#111" stroke-width="0.2">120</text>
<text x="0" y="0" font-size="7" text-anchor="middle" font-weight="bold" transform="translate(278.2 325.6) rotate(-90) scale(0.81 1)" stroke="#111" stroke-width="0.2">Viability (%)</text>
<line x1="303.8" y1="371.6" x2="303.8" y2="401.2" stroke="#111" stroke-width="0.9"/>
<line x1="345.02" y1="371.6" x2="345.02" y2="401.2" stroke="#111" stroke-width="0.9"/>
<line x1="386.24" y1="371.6" x2="386.24" y2="401.2" stroke="#111" stroke-width="0.9"/>
<line x1="427.46" y1="371.6" x2="427.46" y2="401.2" stroke="#111" stroke-width="0.9"/>
<line x1="468.68" y1="371.6" x2="468.68" y2="401.2" stroke="#111" stroke-width="0.9"/>
<line x1="509.9" y1="371.6" x2="509.9" y2="401.2" stroke="#111" stroke-width="0.9"/>
<text x="313.8" y="381.2" font-size="6.4" text-anchor="middle" stroke="#111" stroke-width="0.2">Ctr</text>
<text x="334.2" y="381.2" font-size="6.4" text-anchor="middle" stroke="#111" stroke-width="0.2">ROR1</text>
<text x="334.2" y="389" font-size="6.4" text-anchor="middle" stroke="#111" stroke-width="0.2">2A2</text>
<text x="355.02" y="381.2" font-size="6.4" text-anchor="middle" stroke="#111" stroke-width="0.2">Ctr</text>
<text x="375.42" y="381.2" font-size="6.4" text-anchor="middle" stroke="#111" stroke-width="0.2">ROR1</text>
<text x="375.42" y="389" font-size="6.4" text-anchor="middle" stroke="#111" stroke-width="0.2">2A2</text>
<text x="396.24" y="381.2" font-size="6.4" text-anchor="middle" stroke="#111" stroke-width="0.2">Ctr</text>
<text x="416.64" y="381.2" font-size="6.4" text-anchor="middle" stroke="#111" stroke-width="0.2">ROR1</text>
<text x="416.64" y="389" font-size="6.4" text-anchor="middle" stroke="#111" stroke-width="0.2">2A2</text>
<text x="437.46" y="381.2" font-size="6.4" text-anchor="middle" stroke="#111" stroke-width="0.2">Ctr</text>
<text x="457.86" y="381.2" font-size="6.4" text-anchor="middle" stroke="#111" stroke-width="0.2">ROR1</text>
<text x="457.86" y="389" font-size="6.4" text-anchor="middle" stroke="#111" stroke-width="0.2">2A2</text>
<text x="478.68" y="381.2" font-size="6.4" text-anchor="middle" stroke="#111" stroke-width="0.2">Ctr</text>
<text x="499.08" y="381.2" font-size="6.4" text-anchor="middle" stroke="#111" stroke-width="0.2">ROR1</text>
<text x="499.08" y="389" font-size="6.4" text-anchor="middle" stroke="#111" stroke-width="0.2">2A2</text>
<text x="323.6" y="399.6" font-size="6.4" text-anchor="middle" stroke="#111" stroke-width="0.2">Jeko-1</text>
<text x="364.82" y="399.6" font-size="6.4" text-anchor="middle" stroke="#111" stroke-width="0.2">Mino</text>
<text x="406.04" y="399.6" font-size="6.4" text-anchor="middle" stroke="#111" stroke-width="0.2">Maver-1</text>
<text x="447.26" y="399.6" font-size="6.4" text-anchor="middle" stroke="#111" stroke-width="0.2">Z-138</text>
<text x="488.48" y="399.6" font-size="6.4" text-anchor="middle" stroke="#111" stroke-width="0.2">Granta-519</text>
<rect x="370" y="282.4" width="2.7" height="2.7" fill="#56296f"/>
<text x="375.8" y="286.4" font-size="6.4" stroke="#111" stroke-width="0.2">alone</text>
<rect x="398.2" y="282.4" width="2.7" height="2.7" fill="#b40d2e"/>
<text x="403.8" y="286.4" font-size="6.4" stroke="#111" stroke-width="0.2">with L-CD40L</text>
<text x="0" y="0" font-size="12" font-weight="bold" fill="#000" transform="translate(276 431.6) scale(0.95 1)" stroke="#000" stroke-width="0.3">I</text>
<rect x="309" y="471.24" width="7" height="74.36" fill="#56296f"/>
<line x1="312.5" y1="471.24" x2="312.5" y2="459.35" stroke="#222" stroke-width="1"/>
<line x1="310.6" y1="459.35" x2="314.4" y2="459.35" stroke="#222" stroke-width="1"/>
<rect x="317.5" y="498.75" width="7" height="46.85" fill="#b40d2e"/>
<line x1="321" y1="498.75" x2="321" y2="489.09" stroke="#222" stroke-width="1"/>
<line x1="319.1" y1="489.09" x2="322.9" y2="489.09" stroke="#222" stroke-width="1"/>
<text x="321" y="487.77" font-size="8" text-anchor="middle" font-weight="bold" stroke="#111" stroke-width="0.45" letter-spacing="0.1">*</text>
<text x="0" y="0" font-size="6.5" text-anchor="end" transform="translate(319.6 551.2) rotate(-45)" stroke="#111" stroke-width="0.2">MCL #1</text>
<rect x="335.87" y="471.24" width="7" height="74.36" fill="#56296f"/>
<line x1="339.37" y1="471.24" x2="339.37" y2="469.01" stroke="#222" stroke-width="1"/>
<line x1="337.47" y1="469.01" x2="341.27" y2="469.01" stroke="#222" stroke-width="1"/>
<rect x="344.37" y="505.45" width="7" height="40.15" fill="#b40d2e"/>
<line x1="347.87" y1="505.45" x2="347.87" y2="501.73" stroke="#222" stroke-width="1"/>
<line x1="345.97" y1="501.73" x2="349.77" y2="501.73" stroke="#222" stroke-width="1"/>
<text x="347.87" y="500.41" font-size="8" text-anchor="middle" font-weight="bold" stroke="#111" stroke-width="0.45" letter-spacing="0.1">**</text>
<text x="0" y="0" font-size="6.5" text-anchor="end" transform="translate(346.47 551.2) rotate(-45)" stroke="#111" stroke-width="0.2">MCL #2</text>
<rect x="362.74" y="471.24" width="7" height="74.36" fill="#56296f"/>
<line x1="366.24" y1="471.24" x2="366.24" y2="470.5" stroke="#222" stroke-width="1"/>
<line x1="364.34" y1="470.5" x2="368.14" y2="470.5" stroke="#222" stroke-width="1"/>
<rect x="371.24" y="501.36" width="7" height="44.24" fill="#b40d2e"/>
<line x1="374.74" y1="501.36" x2="374.74" y2="500.24" stroke="#222" stroke-width="1"/>
<line x1="372.84" y1="500.24" x2="376.64" y2="500.24" stroke="#222" stroke-width="1"/>
<text x="374.74" y="498.92" font-size="8" text-anchor="middle" font-weight="bold" stroke="#111" stroke-width="0.45" letter-spacing="0.1">***</text>
<text x="0" y="0" font-size="6.5" text-anchor="end" transform="translate(373.34 551.2) rotate(-45)" stroke="#111" stroke-width="0.2">MCL #3</text>
<rect x="389.61" y="471.24" width="7" height="74.36" fill="#56296f"/>
<line x1="393.11" y1="471.24" x2="393.11" y2="468.27" stroke="#222" stroke-width="1"/>
<line x1="391.21" y1="468.27" x2="395.01" y2="468.27" stroke="#222" stroke-width="1"/>
<rect x="398.11" y="500.99" width="7" height="44.61" fill="#b40d2e"/>
<line x1="401.61" y1="500.99" x2="401.61" y2="498.01" stroke="#222" stroke-width="1"/>
<line x1="399.71" y1="498.01" x2="403.51" y2="498.01" stroke="#222" stroke-width="1"/>
<text x="401.61" y="496.69" font-size="8" text-anchor="middle" font-weight="bold" stroke="#111" stroke-width="0.45" letter-spacing="0.1">***</text>
<text x="0" y="0" font-size="6.5" text-anchor="end" transform="translate(400.21 551.2) rotate(-45)" stroke="#111" stroke-width="0.2">MCL #4</text>
<rect x="416.48" y="471.24" width="7" height="74.36" fill="#56296f"/>
<line x1="419.98" y1="471.24" x2="419.98" y2="465.29" stroke="#222" stroke-width="1"/>
<line x1="418.08" y1="465.29" x2="421.88" y2="465.29" stroke="#222" stroke-width="1"/>
<rect x="424.98" y="487.6" width="7" height="58" fill="#b40d2e"/>
<line x1="428.48" y1="487.6" x2="428.48" y2="485.37" stroke="#222" stroke-width="1"/>
<line x1="426.58" y1="485.37" x2="430.38" y2="485.37" stroke="#222" stroke-width="1"/>
<text x="428.48" y="484.05" font-size="8" text-anchor="middle" font-weight="bold" stroke="#111" stroke-width="0.45" letter-spacing="0.1">*</text>
<text x="0" y="0" font-size="6.5" text-anchor="end" transform="translate(427.08 551.2) rotate(-45)" stroke="#111" stroke-width="0.2">MCL #5</text>
<rect x="443.35" y="471.24" width="7" height="74.36" fill="#56296f"/>
<line x1="446.85" y1="471.24" x2="446.85" y2="454.14" stroke="#222" stroke-width="1"/>
<line x1="444.95" y1="454.14" x2="448.75" y2="454.14" stroke="#222" stroke-width="1"/>
<rect x="451.85" y="479.42" width="7" height="66.18" fill="#b40d2e"/>
<line x1="455.35" y1="479.42" x2="455.35" y2="471.24" stroke="#222" stroke-width="1"/>
<line x1="453.45" y1="471.24" x2="457.25" y2="471.24" stroke="#222" stroke-width="1"/>
<text x="0" y="0" font-size="6.5" text-anchor="end" transform="translate(453.95 551.2) rotate(-45)" stroke="#111" stroke-width="0.2">MCL #20</text>
<rect x="470.22" y="471.24" width="7" height="74.36" fill="#56296f"/>
<line x1="473.72" y1="471.24" x2="473.72" y2="464.55" stroke="#222" stroke-width="1"/>
<line x1="471.82" y1="464.55" x2="475.62" y2="464.55" stroke="#222" stroke-width="1"/>
<rect x="478.72" y="482.4" width="7" height="63.2" fill="#b40d2e"/>
<line x1="482.22" y1="482.4" x2="482.22" y2="474.96" stroke="#222" stroke-width="1"/>
<line x1="480.32" y1="474.96" x2="484.12" y2="474.96" stroke="#222" stroke-width="1"/>
<text x="482.22" y="473.64" font-size="8" text-anchor="middle" font-weight="bold" stroke="#111" stroke-width="0.45" letter-spacing="0.1">*</text>
<text x="0" y="0" font-size="6.5" text-anchor="end" transform="translate(480.82 551.2) rotate(-45)" stroke="#111" stroke-width="0.2">MCL #21</text>
<line x1="303.3" y1="439" x2="303.3" y2="546.2" stroke="#111" stroke-width="1.3"/>
<line x1="302.8" y1="545.6" x2="496" y2="545.6" stroke="#111" stroke-width="1.2"/>
<line x1="299.9" y1="545.6" x2="303.3" y2="545.6" stroke="#111" stroke-width="0.9"/>
<text x="296.9" y="547.9" font-size="6.4" text-anchor="end" stroke="#111" stroke-width="0.2">0</text>
<line x1="299.9" y1="530.73" x2="303.3" y2="530.73" stroke="#111" stroke-width="0.9"/>
<text x="296.9" y="533.03" font-size="6.4" text-anchor="end" stroke="#111" stroke-width="0.2">20</text>
<line x1="299.9" y1="515.86" x2="303.3" y2="515.86" stroke="#111" stroke-width="0.9"/>
<text x="296.9" y="518.16" font-size="6.4" text-anchor="end" stroke="#111" stroke-width="0.2">40</text>
<line x1="299.9" y1="500.99" x2="303.3" y2="500.99" stroke="#111" stroke-width="0.9"/>
<text x="296.9" y="503.29" font-size="6.4" text-anchor="end" stroke="#111" stroke-width="0.2">60</text>
<line x1="299.9" y1="486.11" x2="303.3" y2="486.11" stroke="#111" stroke-width="0.9"/>
<text x="296.9" y="488.41" font-size="6.4" text-anchor="end" stroke="#111" stroke-width="0.2">80</text>
<line x1="299.9" y1="471.24" x2="303.3" y2="471.24" stroke="#111" stroke-width="0.9"/>
<text x="296.9" y="473.54" font-size="6.4" text-anchor="end" stroke="#111" stroke-width="0.2">100</text>
<line x1="299.9" y1="456.37" x2="303.3" y2="456.37" stroke="#111" stroke-width="0.9"/>
<text x="296.9" y="458.67" font-size="6.4" text-anchor="end" stroke="#111" stroke-width="0.2">120</text>
<line x1="299.9" y1="441.5" x2="303.3" y2="441.5" stroke="#111" stroke-width="0.9"/>
<text x="296.9" y="443.8" font-size="6.4" text-anchor="end" stroke="#111" stroke-width="0.2">140</text>
<text x="0" y="0" font-size="7" text-anchor="middle" font-weight="bold" transform="translate(279.4 492.2) rotate(-90) scale(0.81 1)" stroke="#111" stroke-width="0.2">Viability (%)</text>
<rect x="368" y="442.4" width="2.7" height="2.7" fill="#56296f"/>
<text x="374.2" y="446.4" font-size="6.7" stroke="#111" stroke-width="0.2">Ctr</text>
<rect x="392" y="442.4" width="2.7" height="2.7" fill="#b40d2e"/>
<text x="397.6" y="446.4" font-size="6.9" stroke="#111" stroke-width="0.2">ROR1 2A2</text>
<text x="0" y="0" font-size="12" font-weight="bold" fill="#000" transform="translate(274.8 603.4) scale(0.72 1)" stroke="#000" stroke-width="0.3">J</text>
<text x="326.2" y="617.6" font-size="8.8" text-anchor="middle" letter-spacing="0.3" stroke="#111" stroke-width="0.2">MCL#1</text>
<text x="377.8" y="617.6" font-size="8.8" text-anchor="middle" letter-spacing="0.3" stroke="#111" stroke-width="0.2">MCL#21</text>
<text x="313.4" y="628.4" font-size="8" text-anchor="middle" stroke="#111" stroke-width="0.2">-</text>
<text x="336.8" y="628.4" font-size="8" text-anchor="middle" stroke="#111" stroke-width="0.2">+</text>
<text x="366.4" y="628.4" font-size="8" text-anchor="middle" stroke="#111" stroke-width="0.2">-</text>
<text x="389.4" y="628.4" font-size="8" text-anchor="middle" stroke="#111" stroke-width="0.2">+</text>
<text x="403.8" y="628.2" font-size="8.8" stroke="#111" stroke-width="0.2">ROR1 2A2</text>
<g clip-path="url(#c17)">
<rect x="302.6" y="632.6" width="46.2" height="12.8" fill="#c6c6c6"/>
<g filter="url(#bl2)">
<ellipse cx="308.56" cy="632.83" rx="7.67" ry="2.37" fill="#fff" opacity="0.11"/>
<ellipse cx="304.92" cy="642.51" rx="7.65" ry="2.17" fill="#555" opacity="0.11"/>
<ellipse cx="331.64" cy="641.68" rx="5.27" ry="3.93" fill="#555" opacity="0.09"/>
<ellipse cx="335.74" cy="632.75" rx="8.09" ry="2.16" fill="#555" opacity="0.05"/>
<ellipse cx="316.97" cy="641.94" rx="6.43" ry="2.12" fill="#555" opacity="0.06"/>
<rect x="305.15" y="632.6" width="16.9" height="12.8" fill="#333" opacity="0.13"/>
<rect x="329.8" y="632.6" width="16.4" height="12.8" fill="#333" opacity="0.12"/>
<ellipse cx="313.6" cy="638.9" rx="10.55" ry="4.5" fill="#333" opacity="0.31"/>
<rect x="304.85" y="634.6" width="17.5" height="3" fill="#222" opacity="0.46"/>
<ellipse cx="338" cy="639.6" rx="10.3" ry="4.2" fill="#333" opacity="0.25"/>
<rect x="329.5" y="636" width="17" height="2.6" fill="#222" opacity="0.37"/>
</g>
<g filter="url(#bl)">
<rect x="304.35" y="636.6" width="18.5" height="4.6" rx="2.3" fill="#080808" opacity="0.74"/>
<rect x="329" y="637.6" width="18" height="4" rx="2" fill="#080808" opacity="0.6"/>
</g></g>
<rect x="302.6" y="632.6" width="46.2" height="12.8" fill="none" stroke="#1a1a1a" stroke-width="1.2"/>
<g clip-path="url(#c18)">
<rect x="353.8" y="632.6" width="47" height="12.8" fill="#d4d4d4"/>
<g filter="url(#bl2)">
<ellipse cx="371.08" cy="639.96" rx="4.72" ry="3.59" fill="#555" opacity="0.09"/>
<ellipse cx="370.87" cy="640.85" rx="5.93" ry="3.57" fill="#fff" opacity="0.1"/>
<ellipse cx="398.21" cy="642.64" rx="4.3" ry="3.95" fill="#fff" opacity="0.1"/>
<ellipse cx="386.85" cy="643.19" rx="8.89" ry="3.66" fill="#555" opacity="0.08"/>
<ellipse cx="382.05" cy="636.55" rx="5.88" ry="3.37" fill="#555" opacity="0.08"/>
<rect x="358.3" y="632.6" width="15.4" height="12.8" fill="#333" opacity="0.06"/>
<rect x="382.3" y="632.6" width="13.4" height="12.8" fill="#333" opacity="0.05"/>
<ellipse cx="366" cy="638.8" rx="9.8" ry="3.6" fill="#333" opacity="0.14"/>
<rect x="358" y="636.4" width="16" height="2" fill="#222" opacity="0.21"/>
<ellipse cx="389" cy="639.2" rx="8.8" ry="3.5" fill="#333" opacity="0.08"/>
<rect x="382" y="636.9" width="14" height="2" fill="#222" opacity="0.12"/>
</g>
<g filter="url(#bl)">
<rect x="357.5" y="637.4" width="17" height="2.8" rx="1.4" fill="#080808" opacity="0.34"/>
<rect x="381.5" y="637.9" width="15" height="2.6" rx="1.3" fill="#080808" opacity="0.2"/>
</g></g>
<rect x="353.8" y="632.6" width="47" height="12.8" fill="none" stroke="#1a1a1a" stroke-width="1.2"/>
<text x="403.8" y="641.4" font-size="8.8" stroke="#111" stroke-width="0.2">ROR1</text>
<text x="314.2" y="652.8" font-size="7.2" text-anchor="middle" fill="#9a9a9a" letter-spacing="0.4" stroke="#9a9a9a" stroke-width="0.2">1.0</text>
<text x="336.8" y="652.8" font-size="7.2" text-anchor="middle" fill="#9a9a9a" letter-spacing="0.4" stroke="#9a9a9a" stroke-width="0.2">0.8</text>
<text x="366.2" y="652.8" font-size="7.2" text-anchor="middle" fill="#9a9a9a" letter-spacing="0.4" stroke="#9a9a9a" stroke-width="0.2">1.0</text>
<text x="388.4" y="652.8" font-size="7.2" text-anchor="middle" fill="#9a9a9a" letter-spacing="0.4" stroke="#9a9a9a" stroke-width="0.2">0.9</text>
<g clip-path="url(#c19)">
<rect x="302.6" y="656.8" width="46.2" height="12.4" fill="#d0d0d0"/>
<g filter="url(#bl2)">
<ellipse cx="330.4" cy="667.91" rx="4.01" ry="2.53" fill="#fff" opacity="0.11"/>
<ellipse cx="322.12" cy="664.07" rx="4.21" ry="3.67" fill="#555" opacity="0.12"/>
<ellipse cx="340.1" cy="667.55" rx="8.26" ry="3.61" fill="#fff" opacity="0.1"/>
<ellipse cx="334.23" cy="668.13" rx="6.77" ry="3.59" fill="#fff" opacity="0.08"/>
<ellipse cx="311.86" cy="666.1" rx="7.03" ry="3.36" fill="#fff" opacity="0.12"/>
<rect x="305.85" y="656.8" width="15.9" height="12.4" fill="#333" opacity="0.09"/>
<rect x="329.8" y="656.8" width="15.4" height="12.4" fill="#333" opacity="0.07"/>
<ellipse cx="313.8" cy="662.6" rx="10.05" ry="4.1" fill="#333" opacity="0.34"/>
<rect x="305.55" y="659.7" width="16.5" height="2" fill="#222" opacity="0.51"/>
<ellipse cx="337.5" cy="664" rx="9.8" ry="3.9" fill="#333" opacity="0.25"/>
</g>
<g filter="url(#bl)">
<rect x="305.05" y="660.7" width="17.5" height="3.8" rx="1.9" fill="#080808" opacity="0.82"/>
<rect x="329" y="662.3" width="17" height="3.4" rx="1.7" fill="#080808" opacity="0.6"/>
</g></g>
<rect x="302.6" y="656.8" width="46.2" height="12.4" fill="none" stroke="#1a1a1a" stroke-width="1.2"/>
<g clip-path="url(#c20)">
<rect x="353.8" y="656.8" width="47" height="12.4" fill="#e0e0e0"/>
<g filter="url(#bl2)">
<ellipse cx="375.67" cy="659.36" rx="7.96" ry="2.92" fill="#555" opacity="0.07"/>
<ellipse cx="357.92" cy="666.8" rx="6.9" ry="3.79" fill="#fff" opacity="0.11"/>
<ellipse cx="395.4" cy="663.27" rx="4.95" ry="2.38" fill="#555" opacity="0.09"/>
<ellipse cx="362.29" cy="665.49" rx="6.01" ry="3.03" fill="#555" opacity="0.08"/>
<ellipse cx="360.8" cy="657.35" rx="4.53" ry="3.27" fill="#fff" opacity="0.13"/>
<rect x="357.6" y="656.8" width="18.4" height="12.4" fill="#333" opacity="0.04"/>
<rect x="383.45" y="656.8" width="13.9" height="12.4" fill="#333" opacity="0.04"/>
<ellipse cx="366.8" cy="664.8" rx="11.3" ry="4.1" fill="#333" opacity="0.42"/>
<ellipse cx="390.4" cy="662.6" rx="9.05" ry="3.8" fill="#333" opacity="0.4"/>
</g>
<g filter="url(#bl)">
<rect x="356.8" y="662.9" width="20" height="3.8" rx="1.9" fill="#080808" opacity="1"/>
<rect x="382.65" y="661" width="15.5" height="3.2" rx="1.6" fill="#080808" opacity="0.95"/>
</g></g>
<rect x="353.8" y="656.8" width="47" height="12.4" fill="none" stroke="#1a1a1a" stroke-width="1.2"/>
<text x="403.8" y="666" font-size="8.8" stroke="#111" stroke-width="0.2">p65</text>
<text x="314.2" y="677.4" font-size="7.2" text-anchor="middle" fill="#9a9a9a" letter-spacing="0.4" stroke="#9a9a9a" stroke-width="0.2">1.0</text>
<text x="336.8" y="677.4" font-size="7.2" text-anchor="middle" fill="#9a9a9a" letter-spacing="0.4" stroke="#9a9a9a" stroke-width="0.2">0.7</text>
<text x="366.2" y="677.4" font-size="7.2" text-anchor="middle" fill="#9a9a9a" letter-spacing="0.4" stroke="#9a9a9a" stroke-width="0.2">1.0</text>
<text x="388.4" y="677.4" font-size="7.2" text-anchor="middle" fill="#9a9a9a" letter-spacing="0.4" stroke="#9a9a9a" stroke-width="0.2">1.1</text>
<g clip-path="url(#c21)">
<rect x="302.6" y="681.3" width="46.2" height="12" fill="#e0e0e0"/>
<g filter="url(#bl2)">
<ellipse cx="338.98" cy="683.17" rx="6.6" ry="2.04" fill="#fff" opacity="0.1"/>
<ellipse cx="304.15" cy="693.18" rx="6.84" ry="2.52" fill="#fff" opacity="0.12"/>
<ellipse cx="338.6" cy="686.41" rx="8.09" ry="3.93" fill="#555" opacity="0.13"/>
<ellipse cx="314.33" cy="681.75" rx="4.42" ry="2.1" fill="#fff" opacity="0.07"/>
<ellipse cx="328.35" cy="691.75" rx="8.55" ry="2.13" fill="#555" opacity="0.09"/>
<rect x="306.95" y="681.3" width="14.9" height="12" fill="#333" opacity="0.04"/>
<rect x="332.15" y="681.3" width="12.9" height="12" fill="#333" opacity="0.04"/>
<ellipse cx="314.4" cy="687.1" rx="9.55" ry="3.7" fill="#333" opacity="0.41"/>
<ellipse cx="338.6" cy="688.2" rx="8.55" ry="3.6" fill="#333" opacity="0.39"/>
</g>
<g filter="url(#bl)">
<rect x="306.15" y="685.6" width="16.5" height="3" rx="1.5" fill="#080808" opacity="0.97"/>
<rect x="331.35" y="686.8" width="14.5" height="2.8" rx="1.4" fill="#080808" opacity="0.92"/>
</g></g>
<rect x="302.6" y="681.3" width="46.2" height="12" fill="none" stroke="#1a1a1a" stroke-width="1.2"/>
<g clip-path="url(#c22)">
<rect x="353.8" y="681.3" width="47" height="12" fill="#e4e4e4"/>
<g filter="url(#bl2)">
<ellipse cx="381.91" cy="686.07" rx="5.29" ry="3.13" fill="#555" opacity="0.06"/>
<ellipse cx="383.91" cy="692.78" rx="6.24" ry="2.32" fill="#fff" opacity="0.1"/>
<ellipse cx="399.19" cy="693.2" rx="5.28" ry="2.7" fill="#fff" opacity="0.07"/>
<ellipse cx="396.23" cy="692.15" rx="7.93" ry="3.42" fill="#fff" opacity="0.12"/>
<ellipse cx="384.19" cy="693.13" rx="7.77" ry="3.88" fill="#fff" opacity="0.05"/>
<rect x="358.45" y="681.3" width="17.9" height="12" fill="#333" opacity="0.04"/>
<rect x="384.65" y="681.3" width="11.9" height="12" fill="#333" opacity="0.04"/>
<ellipse cx="367.4" cy="688.2" rx="11.05" ry="4.1" fill="#333" opacity="0.42"/>
<ellipse cx="390.6" cy="686.8" rx="8.05" ry="3.9" fill="#333" opacity="0.41"/>
</g>
<g filter="url(#bl)">
<rect x="357.65" y="686.3" width="19.5" height="3.8" rx="1.9" fill="#080808" opacity="1"/>
<rect x="383.85" y="685.1" width="13.5" height="3.4" rx="1.7" fill="#080808" opacity="0.98"/>
</g></g>
<rect x="353.8" y="681.3" width="47" height="12" fill="none" stroke="#1a1a1a" stroke-width="1.2"/>
<text x="403.8" y="690.2" font-size="8.8" stroke="#111" stroke-width="0.2">β-tubulin</text>
</g>
<rect x="0" y="0" width="520" height="1.1" fill="#000"/><rect x="0" y="0" width="1.2" height="701" fill="#000"/><rect x="518.4" y="0" width="1.6" height="701" fill="#000"/><rect x="0" y="698.8" width="520" height="2.2" fill="#000"/>
</svg>
</body></html>
